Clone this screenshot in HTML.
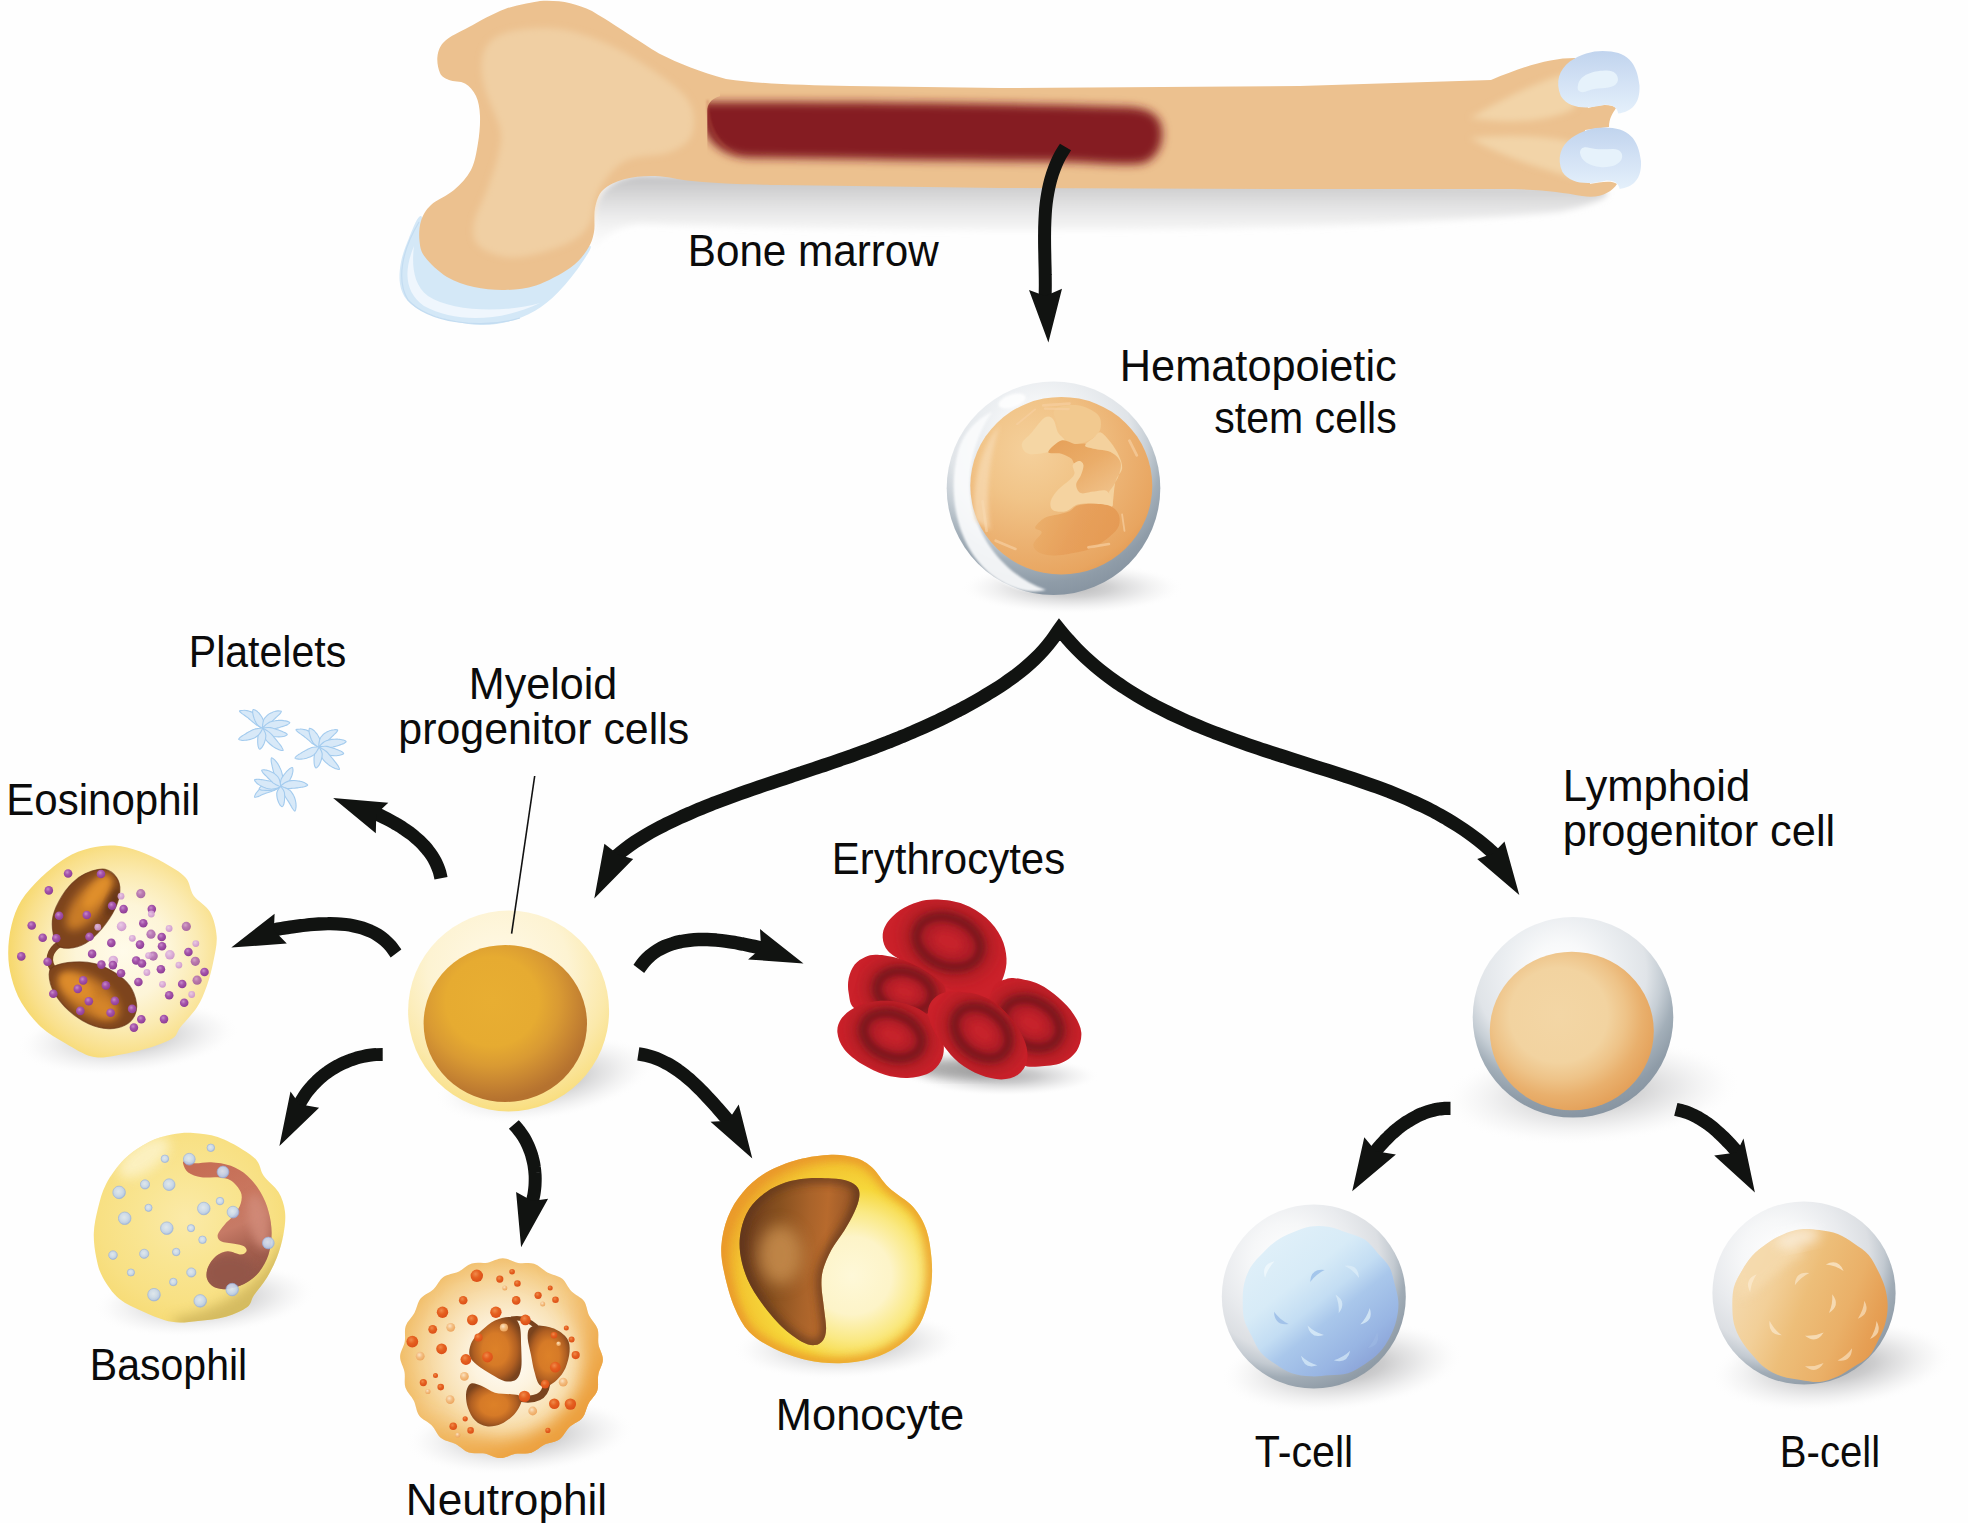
<!DOCTYPE html>
<html><head><meta charset="utf-8"><title>Hematopoiesis</title>
<style>
html,body{margin:0;padding:0;background:#fff;}
body{width:1968px;height:1523px;overflow:hidden;}
svg{display:block;}
text{font-family:"Liberation Sans",sans-serif;fill:#0b0b0b;}
</style></head><body>
<svg width="1968" height="1523" viewBox="0 0 1968 1523">
<defs>
<filter id="b1" x="-30%" y="-30%" width="160%" height="160%"><feGaussianBlur stdDeviation="1"/></filter>
<filter id="b2" x="-30%" y="-30%" width="160%" height="160%"><feGaussianBlur stdDeviation="2"/></filter>
<filter id="b3" x="-30%" y="-30%" width="160%" height="160%"><feGaussianBlur stdDeviation="3"/></filter>
<filter id="b4" x="-30%" y="-30%" width="160%" height="160%"><feGaussianBlur stdDeviation="4"/></filter>
<filter id="b6" x="-30%" y="-30%" width="160%" height="160%"><feGaussianBlur stdDeviation="6"/></filter>
<filter id="b8" x="-30%" y="-30%" width="160%" height="160%"><feGaussianBlur stdDeviation="8"/></filter>
<filter id="b10" x="-30%" y="-30%" width="160%" height="160%"><feGaussianBlur stdDeviation="10"/></filter>
<filter id="b14" x="-30%" y="-30%" width="160%" height="160%"><feGaussianBlur stdDeviation="14"/></filter>
<filter id="b05" x="-10%" y="-10%" width="120%" height="120%"><feGaussianBlur stdDeviation="0.6"/></filter>
<radialGradient id="gshadow" cx="0.5" cy="0.5" r="0.5">
<stop offset="0" stop-color="#8f8f91" stop-opacity="0.7"/>
<stop offset="0.35" stop-color="#a5a5a7" stop-opacity="0.55"/>
<stop offset="0.6" stop-color="#bdbdbf" stop-opacity="0.36"/>
<stop offset="0.82" stop-color="#d4d4d5" stop-opacity="0.15"/>
<stop offset="1" stop-color="#ffffff" stop-opacity="0"/>
</radialGradient>
<linearGradient id="boneShadow" x1="0" y1="0" x2="0" y2="1">
<stop offset="0" stop-color="#bdbdbf" stop-opacity="0.95"/>
<stop offset="0.25" stop-color="#cfcfd0" stop-opacity="0.8"/>
<stop offset="0.55" stop-color="#e6e6e6" stop-opacity="0.55"/>
<stop offset="1" stop-color="#ffffff" stop-opacity="0"/>
</linearGradient>
<linearGradient id="condyle" x1="0" y1="0" x2="0" y2="1">
<stop offset="0" stop-color="#c1d4ee"/>
<stop offset="0.5" stop-color="#d3e2f5"/>
<stop offset="1" stop-color="#e4f0fb"/>
</linearGradient>
<linearGradient id="cartL" x1="0" y1="0" x2="1" y2="1">
<stop offset="0" stop-color="#d9eaf8"/>
<stop offset="1" stop-color="#d2e6f6"/>
</linearGradient>
<clipPath id="marrowclip"><path d="M720 88 L1200 88 L1200 185 L707.3 185 L707.3 112 C707 105 710 99 720 96 Z"/></clipPath>
<filter id="b5" x="-10%" y="-40%" width="120%" height="180%"><feGaussianBlur stdDeviation="4.6"/></filter>
<radialGradient id="rg1" cx="0.44" cy="0.28" r="0.76"><stop offset="0" stop-color="#ffffff"/><stop offset="0.2" stop-color="#f8f9fa"/><stop offset="0.38" stop-color="#ebeef1"/><stop offset="0.56" stop-color="#e0e4e8"/><stop offset="0.66" stop-color="#c6ced5"/><stop offset="0.76" stop-color="#a3afb9"/><stop offset="0.87" stop-color="#8f9ca8"/><stop offset="1" stop-color="#84919e"/></radialGradient>
<radialGradient id="rg2" cx="0.36" cy="0.3" r="0.8"><stop offset="0" stop-color="#ffffff"/><stop offset="0.25" stop-color="#f6f7f8"/><stop offset="0.45" stop-color="#e9ebee"/><stop offset="0.62" stop-color="#dcdfe3"/><stop offset="0.72" stop-color="#c3cad1"/><stop offset="0.8" stop-color="#a1acb6"/><stop offset="0.9" stop-color="#919da8"/><stop offset="1" stop-color="#87949f"/></radialGradient>
<radialGradient id="rg3" cx="0.33" cy="0.3" r="0.8"><stop offset="0" stop-color="#f5d09b"/><stop offset="0.35" stop-color="#f1c488"/><stop offset="0.65" stop-color="#ecb272"/><stop offset="0.9" stop-color="#e8a560"/><stop offset="1" stop-color="#e39a53"/></radialGradient>
<clipPath id="cp4"><ellipse cx="1061.3" cy="485.7" rx="91.0" ry="88.8"/></clipPath>
<linearGradient id="lg5" x1="0.1" y1="0.0" x2="0.9" y2="1.0"><stop offset="0" stop-color="#e6a15a"/><stop offset="0.45" stop-color="#eaac68"/><stop offset="1" stop-color="#f1c48d"/></linearGradient>
<linearGradient id="lg6" x1="0.0" y1="0.3" x2="1.0" y2="0.6"><stop offset="0" stop-color="#ebb06c"/><stop offset="0.5" stop-color="#e7a05b"/><stop offset="1" stop-color="#e59a54"/></linearGradient>
<radialGradient id="rg7" cx="0.42" cy="0.4" r="0.62"><stop offset="0" stop-color="#f3d6a5"/><stop offset="0.48" stop-color="#f2d3a0"/><stop offset="0.66" stop-color="#eec388"/><stop offset="0.82" stop-color="#e9b06d"/><stop offset="1" stop-color="#e4a15a"/></radialGradient>
<linearGradient id="lg8" x1="0.15" y1="0.1" x2="0.85" y2="0.95"><stop offset="0" stop-color="#e0f0f9"/><stop offset="0.3" stop-color="#d7ebf7"/><stop offset="0.48" stop-color="#c3ddf3"/><stop offset="0.6" stop-color="#a9c7eb"/><stop offset="0.82" stop-color="#98b5e3"/><stop offset="1" stop-color="#889fd5"/></linearGradient>
<linearGradient id="lg9" x1="0.0" y1="0.4" x2="1.0" y2="0.8"><stop offset="0" stop-color="#f4d9ad"/><stop offset="0.22" stop-color="#f2cf98"/><stop offset="0.42" stop-color="#edbe79"/><stop offset="0.68" stop-color="#eab068"/><stop offset="0.85" stop-color="#e6a055"/><stop offset="1" stop-color="#e39548"/></linearGradient>
<clipPath id="cp10"><path d="M1887.7 1305.6 C1887.7 1311.6 1886.8 1317.9 1885.2 1323.7 C1883.6 1329.5 1880.8 1335.0 1878.1 1340.4 C1875.3 1345.9 1873.0 1352.1 1868.9 1356.5 C1864.8 1360.9 1858.7 1363.7 1853.5 1367.0 C1848.3 1370.4 1843.2 1374.1 1837.6 1376.5 C1831.9 1379.0 1825.6 1381.3 1819.5 1381.9 C1813.4 1382.4 1806.9 1380.8 1800.8 1379.9 C1794.6 1379.0 1788.2 1378.6 1782.4 1376.6 C1776.5 1374.7 1770.6 1371.8 1765.7 1368.3 C1760.7 1364.7 1756.7 1359.7 1752.6 1355.2 C1748.6 1350.6 1744.5 1345.9 1741.4 1340.7 C1738.3 1335.5 1735.5 1329.7 1734.0 1323.9 C1732.5 1318.0 1732.4 1311.7 1732.3 1305.6 C1732.3 1299.5 1732.4 1293.1 1733.9 1287.3 C1735.5 1281.5 1738.8 1276.0 1741.9 1270.7 C1744.9 1265.5 1748.2 1260.2 1752.3 1255.7 C1756.4 1251.3 1761.3 1247.5 1766.4 1244.0 C1771.4 1240.4 1776.7 1237.1 1782.4 1234.7 C1788.1 1232.2 1794.3 1230.1 1800.5 1229.3 C1806.7 1228.5 1813.2 1229.3 1819.4 1230.1 C1825.6 1230.9 1832.1 1231.8 1837.8 1234.1 C1843.6 1236.3 1848.9 1239.9 1854.0 1243.4 C1859.2 1246.9 1864.7 1250.3 1868.7 1254.9 C1872.7 1259.5 1875.3 1265.4 1878.0 1270.8 C1880.7 1276.2 1883.4 1281.8 1885.0 1287.6 C1886.6 1293.4 1887.6 1299.6 1887.7 1305.6Z"/></clipPath>
<radialGradient id="rg11" cx="0.45" cy="0.3" r="0.78"><stop offset="0" stop-color="#fff9e8"/><stop offset="0.45" stop-color="#fdf3d2"/><stop offset="0.7" stop-color="#fbe9ab"/><stop offset="0.88" stop-color="#f9df84"/><stop offset="1" stop-color="#f6d55f"/></radialGradient>
<radialGradient id="rg12" cx="0.42" cy="0.36" r="0.63"><stop offset="0" stop-color="#e8ae32"/><stop offset="0.45" stop-color="#e6ab31"/><stop offset="0.65" stop-color="#d99a33"/><stop offset="0.82" stop-color="#c88632"/><stop offset="0.95" stop-color="#ba7730"/><stop offset="1" stop-color="#b5722f"/></radialGradient>
<radialGradient id="rg13" cx="0.55" cy="0.5" r="0.56"><stop offset="0" stop-color="#fffbea"/><stop offset="0.4" stop-color="#fdf5d8"/><stop offset="0.65" stop-color="#fbebb3"/><stop offset="0.85" stop-color="#f9e08c"/><stop offset="1" stop-color="#f6d768"/></radialGradient>
<linearGradient id="lg14" x1="0.1" y1="0.2" x2="0.95" y2="0.75"><stop offset="0" stop-color="#7c431d"/><stop offset="0.3" stop-color="#b36b25"/><stop offset="0.5" stop-color="#d98a2b"/><stop offset="0.72" stop-color="#a9611f"/><stop offset="1" stop-color="#6e3a1b"/></linearGradient>
<linearGradient id="lg15" x1="0.0" y1="0.35" x2="1.0" y2="0.7"><stop offset="0" stop-color="#7c431d"/><stop offset="0.25" stop-color="#b86f27"/><stop offset="0.5" stop-color="#d98a2b"/><stop offset="0.75" stop-color="#9a5620"/><stop offset="1" stop-color="#6e3a1b"/></linearGradient>
<clipPath id="cp16"><path d="M91.9 871.0 C96.3 869.7 101.0 868.3 105.1 869.4 C109.2 870.5 114.1 874.0 116.5 877.6 C119.0 881.2 120.1 885.5 119.8 890.7 C119.6 895.9 117.9 902.5 114.9 908.8 C111.9 915.1 106.7 922.7 101.8 928.5 C96.8 934.2 90.8 940.0 85.4 943.3 C79.9 946.5 73.6 947.9 68.9 948.2 C64.3 948.5 60.2 948.2 57.5 944.9 C54.7 941.6 53.1 934.0 52.5 928.5 C52.0 923.0 52.0 918.4 54.2 912.1 C56.4 905.8 61.6 896.5 65.7 890.7 C69.8 885.0 74.4 880.9 78.8 877.6 C83.2 874.3 87.5 872.4 91.9 871.0Z"/></clipPath>
<clipPath id="cp17"><path d="M54.2 966.2 C58.3 964.2 67.0 962.6 73.9 962.1 C80.7 961.7 88.4 962.0 95.2 963.8 C102.0 965.6 109.2 969.1 114.9 972.8 C120.7 976.5 126.1 981.0 129.7 985.9 C133.2 990.9 135.4 997.4 136.2 1002.4 C137.1 1007.3 136.5 1011.7 134.6 1015.5 C132.7 1019.3 129.1 1023.1 124.8 1025.3 C120.4 1027.5 114.4 1028.9 108.3 1028.6 C102.3 1028.3 95.2 1026.7 88.6 1023.7 C82.1 1020.7 74.7 1015.8 68.9 1010.6 C63.2 1005.4 57.5 998.5 54.2 992.5 C50.9 986.5 49.2 978.8 49.2 974.5 C49.2 970.1 50.1 968.3 54.2 966.2Z"/></clipPath>
<radialGradient id="rg18" cx="0.4" cy="0.35" r="0.65"><stop offset="0" stop-color="#c78acb"/><stop offset="0.45" stop-color="#a554ab"/><stop offset="1" stop-color="#8e3d96"/></radialGradient>
<radialGradient id="rg19" cx="0.4" cy="0.35" r="0.65"><stop offset="0" stop-color="#e7c6e6"/><stop offset="0.6" stop-color="#d6a3d6"/><stop offset="1" stop-color="#c98fca"/></radialGradient>
<radialGradient id="rg20" cx="0.48" cy="0.45" r="0.6"><stop offset="0" stop-color="#fbeaa8"/><stop offset="0.4" stop-color="#f9e592"/><stop offset="0.75" stop-color="#f8e083"/><stop offset="1" stop-color="#f6da72"/></radialGradient>
<clipPath id="cp21"><path d="M193.1 1133.0 C200.8 1133.4 209.5 1134.3 217.7 1137.1 C225.9 1139.8 235.8 1145.4 242.4 1149.4 C248.9 1153.4 253.6 1156.5 257.1 1160.9 C260.7 1165.3 260.1 1170.5 263.7 1175.7 C267.3 1180.9 274.9 1186.1 278.5 1192.1 C282.0 1198.1 284.2 1204.7 285.0 1211.8 C285.9 1218.9 284.8 1227.1 283.4 1234.8 C282.0 1242.4 279.6 1250.6 276.8 1257.7 C274.1 1264.8 270.8 1271.1 267.0 1277.4 C263.1 1283.7 257.1 1290.6 253.8 1295.5 C250.6 1300.4 251.9 1303.4 247.3 1307.0 C242.6 1310.5 234.1 1314.5 225.9 1316.8 C217.7 1319.2 207.1 1320.1 198.0 1320.9 C189.0 1321.8 180.8 1323.3 171.8 1321.8 C162.7 1320.2 152.6 1315.7 143.9 1311.9 C135.1 1308.1 126.1 1304.5 119.2 1298.8 C112.4 1293.0 106.7 1284.3 102.8 1277.4 C99.0 1270.6 97.8 1265.1 96.3 1257.7 C94.8 1250.3 93.5 1241.3 93.8 1233.1 C94.1 1224.9 95.9 1216.7 97.9 1208.5 C100.0 1200.3 101.7 1192.1 106.1 1183.9 C110.5 1175.7 117.1 1166.2 124.2 1159.2 C131.3 1152.3 140.9 1146.1 148.8 1142.0 C156.7 1137.9 164.4 1136.1 171.8 1134.6 C179.2 1133.1 185.5 1132.6 193.1 1133.0Z"/></clipPath>
<linearGradient id="lg22" x1="0.3" y1="0.0" x2="0.6" y2="1.0"><stop offset="0" stop-color="#c66d55"/><stop offset="0.35" stop-color="#c9775f"/><stop offset="0.55" stop-color="#c67a66"/><stop offset="0.75" stop-color="#a5604f"/><stop offset="1" stop-color="#925446"/></linearGradient>
<clipPath id="cp23"><path d="M183.3 1164.2 C183.8 1166.1 185.2 1170.2 188.2 1172.4 C191.2 1174.6 196.4 1176.5 201.3 1177.3 C206.2 1178.1 212.8 1176.8 217.7 1177.3 C222.7 1177.8 227.0 1178.1 230.9 1180.6 C234.7 1183.0 239.1 1188.2 240.7 1192.1 C242.4 1195.9 241.8 1199.7 240.7 1203.6 C239.6 1207.4 236.9 1211.5 234.1 1215.1 C231.4 1218.6 227.0 1221.6 224.3 1224.9 C221.6 1228.2 218.3 1232.0 217.7 1234.8 C217.2 1237.5 218.3 1239.8 221.0 1241.3 C223.8 1242.8 230.3 1243.0 234.1 1243.8 C238.0 1244.6 241.9 1245.0 244.0 1246.2 C246.1 1247.5 247.0 1249.8 246.5 1251.2 C245.9 1252.5 243.9 1254.5 240.7 1254.5 C237.6 1254.5 231.7 1250.9 227.6 1251.2 C223.5 1251.4 219.4 1253.4 216.1 1256.1 C212.8 1258.8 209.4 1263.8 207.9 1267.6 C206.4 1271.4 206.0 1275.8 207.1 1279.1 C208.2 1282.4 211.0 1285.6 214.5 1287.3 C217.9 1288.9 222.7 1289.5 227.6 1288.9 C232.5 1288.4 238.8 1286.7 244.0 1284.0 C249.2 1281.3 254.7 1277.4 258.8 1272.5 C262.9 1267.6 266.5 1261.0 268.6 1254.5 C270.8 1247.9 271.6 1240.2 271.6 1233.1 C271.6 1226.0 270.5 1218.6 268.6 1211.8 C266.8 1204.9 264.0 1198.1 260.4 1192.1 C256.9 1186.1 252.2 1180.0 247.3 1175.7 C242.4 1171.3 236.9 1168.1 230.9 1165.8 C224.8 1163.6 217.2 1162.6 211.2 1162.2 C205.1 1161.8 199.1 1163.6 194.8 1163.3 C190.4 1163.1 186.8 1160.7 184.9 1160.9 C183.0 1161.0 182.7 1162.3 183.3 1164.2Z"/></clipPath>
<radialGradient id="rg24" cx="0.45" cy="0.42" r="0.58"><stop offset="0" stop-color="#dde8f6"/><stop offset="0.55" stop-color="#c9daf1"/><stop offset="0.82" stop-color="#b7ccec"/><stop offset="1" stop-color="#93afe0"/></radialGradient>
<radialGradient id="rg25" cx="0.52" cy="0.5" r="0.55"><stop offset="0" stop-color="#fffefb"/><stop offset="0.3" stop-color="#fdf3df"/><stop offset="0.55" stop-color="#f9e3b9"/><stop offset="0.78" stop-color="#f5d08f"/><stop offset="0.95" stop-color="#f1bd69"/><stop offset="1" stop-color="#efb55c"/></radialGradient>
<clipPath id="cp26"><path d="M597.6 1328.9 C599.1 1333.7 597.6 1339.3 598.5 1344.5 C599.4 1349.6 603.0 1354.6 602.9 1359.6 C602.9 1364.7 599.2 1369.6 598.3 1374.7 C597.3 1379.8 598.9 1385.6 597.3 1390.4 C595.7 1395.1 591.1 1398.9 588.6 1403.4 C586.1 1408.0 585.5 1413.9 582.4 1417.8 C579.2 1421.8 573.3 1423.5 569.5 1427.1 C565.7 1430.7 563.7 1436.4 559.6 1439.3 C555.4 1442.3 549.4 1442.4 544.6 1444.6 C539.9 1446.9 536.1 1451.3 531.2 1452.8 C526.3 1454.3 520.6 1452.9 515.5 1453.7 C510.3 1454.6 505.2 1458.2 500.1 1458.1 C494.9 1458.1 490.0 1454.5 484.8 1453.5 C479.6 1452.6 473.7 1454.2 468.9 1452.6 C464.0 1451.0 460.2 1446.4 455.6 1444.0 C450.9 1441.5 445.0 1441.0 441.0 1437.9 C437.0 1434.7 435.2 1428.9 431.6 1425.2 C427.9 1421.4 422.1 1419.5 419.1 1415.4 C416.2 1411.3 416.1 1405.4 413.8 1400.7 C411.5 1396.0 407.0 1392.3 405.4 1387.5 C403.9 1382.7 405.4 1377.1 404.5 1371.9 C403.6 1366.8 400.0 1361.8 400.1 1356.8 C400.1 1351.7 403.8 1346.8 404.7 1341.7 C405.7 1336.6 404.1 1330.8 405.7 1326.0 C407.3 1321.3 411.9 1317.5 414.4 1313.0 C416.9 1308.4 417.5 1302.5 420.6 1298.6 C423.8 1294.6 429.7 1292.9 433.5 1289.3 C437.3 1285.7 439.3 1280.0 443.4 1277.1 C447.6 1274.1 453.6 1274.0 458.4 1271.8 C463.1 1269.5 466.9 1265.1 471.8 1263.6 C476.7 1262.1 482.4 1263.5 487.5 1262.7 C492.7 1261.8 497.8 1258.2 502.9 1258.3 C508.1 1258.3 513.0 1261.9 518.2 1262.9 C523.4 1263.8 529.3 1262.2 534.1 1263.8 C539.0 1265.4 542.8 1270.0 547.4 1272.4 C552.1 1274.9 558.0 1275.4 562.0 1278.5 C566.0 1281.7 567.8 1287.5 571.4 1291.2 C575.1 1295.0 580.9 1296.9 583.9 1301.0 C586.8 1305.1 586.9 1311.0 589.2 1315.7 C591.5 1320.4 596.0 1324.1 597.6 1328.9Z"/></clipPath>
<linearGradient id="lg27" x1="0.1" y1="0.1" x2="0.9" y2="0.95"><stop offset="0" stop-color="#eda23f" stop-opacity="0"/><stop offset="0.45" stop-color="#eda23f" stop-opacity="0.05"/><stop offset="0.7" stop-color="#eda23f" stop-opacity="0.7"/><stop offset="1" stop-color="#eb9c38" stop-opacity="1"/></linearGradient>
<radialGradient id="rg28" cx="0.5" cy="0.5" r="0.55"><stop offset="0" stop-color="#dd8128"/><stop offset="0.45" stop-color="#d67a27"/><stop offset="0.75" stop-color="#b05f22"/><stop offset="1" stop-color="#7a431d"/></radialGradient>
<radialGradient id="rg29" cx="0.4" cy="0.35" r="0.65"><stop offset="0" stop-color="#f08a4a"/><stop offset="0.5" stop-color="#e5601f"/><stop offset="1" stop-color="#dc4f18"/></radialGradient>
<radialGradient id="rg30" cx="0.4" cy="0.35" r="0.65"><stop offset="0" stop-color="#fbe3c4"/><stop offset="0.5" stop-color="#f3bd80"/><stop offset="1" stop-color="#eda65f"/></radialGradient>
<radialGradient id="rg31" cx="0.62" cy="0.58" r="0.62"><stop offset="0" stop-color="#fef8d8"/><stop offset="0.3" stop-color="#fdf4c8"/><stop offset="0.5" stop-color="#fae984"/><stop offset="0.68" stop-color="#f6d73a"/><stop offset="0.85" stop-color="#f3c531"/><stop offset="1" stop-color="#eca32b"/></radialGradient>
<clipPath id="cp32"><path d="M831.3 1154.7 C840.9 1154.4 849.1 1155.8 855.9 1158.0 C862.8 1160.2 866.9 1162.9 872.4 1167.8 C877.8 1172.8 881.9 1181.0 888.8 1187.5 C895.6 1194.1 907.1 1200.1 913.4 1207.2 C919.7 1214.3 923.5 1221.7 926.5 1230.2 C929.5 1238.7 930.6 1249.4 931.5 1258.1 C932.3 1266.9 932.3 1274.5 931.5 1282.7 C930.6 1290.9 929.0 1299.7 926.5 1307.4 C924.1 1315.0 921.6 1322.1 916.7 1328.7 C911.8 1335.3 904.4 1341.8 897.0 1346.8 C889.6 1351.7 881.9 1355.5 872.4 1358.2 C862.8 1361.0 850.5 1362.9 839.5 1363.2 C828.6 1363.4 817.6 1362.3 806.7 1359.9 C795.8 1357.4 783.4 1353.0 773.9 1348.4 C764.3 1343.7 755.8 1338.8 749.2 1332.0 C742.7 1325.1 738.6 1316.9 734.5 1307.4 C730.4 1297.8 726.8 1284.6 724.6 1274.5 C722.4 1264.4 720.8 1256.2 721.3 1246.6 C721.9 1237.0 724.3 1226.1 727.9 1217.1 C731.5 1208.0 736.4 1199.8 742.7 1192.5 C749.0 1185.1 756.4 1178.2 765.7 1172.8 C775.0 1167.3 787.5 1162.6 798.5 1159.6 C809.4 1156.6 821.7 1155.0 831.3 1154.7Z"/></clipPath>
<linearGradient id="lg33" x1="0.0" y1="0.45" x2="1.0" y2="0.55"><stop offset="0" stop-color="#6a3b1e"/><stop offset="0.3" stop-color="#87501f"/><stop offset="0.55" stop-color="#a9632a"/><stop offset="0.7" stop-color="#b76a2d"/><stop offset="0.85" stop-color="#a05c29"/><stop offset="1" stop-color="#7a4520"/></linearGradient>
<clipPath id="cp34"><path d="M806.7 1178.5 C814.4 1177.8 824.5 1178.1 831.3 1178.5 C838.2 1178.9 843.4 1179.5 847.7 1181.0 C852.1 1182.5 855.7 1184.8 857.6 1187.5 C859.5 1190.3 859.8 1193.3 859.2 1197.4 C858.7 1201.5 856.8 1206.7 854.3 1212.2 C851.8 1217.6 848.3 1223.9 844.5 1230.2 C840.6 1236.5 834.9 1243.3 831.3 1249.9 C827.8 1256.5 824.8 1263.6 823.1 1269.6 C821.5 1275.6 821.3 1279.7 821.5 1286.0 C821.6 1292.3 823.2 1300.2 823.9 1307.4 C824.7 1314.5 826.2 1323.2 826.1 1328.7 C825.9 1334.2 825.0 1337.5 823.1 1340.2 C821.3 1342.9 818.5 1344.8 814.9 1345.1 C811.3 1345.4 807.2 1344.8 801.8 1341.8 C796.3 1338.8 788.6 1333.3 782.1 1327.1 C775.5 1320.8 768.1 1312.0 762.4 1304.1 C756.6 1296.1 751.3 1287.9 747.6 1279.5 C743.9 1271.0 741.3 1261.4 740.2 1253.2 C739.1 1245.0 739.5 1237.6 741.0 1230.2 C742.5 1222.8 745.1 1215.2 749.2 1208.9 C753.3 1202.6 759.6 1196.8 765.7 1192.5 C771.7 1188.1 778.5 1184.9 785.4 1182.6 C792.2 1180.3 799.0 1179.2 806.7 1178.5Z"/></clipPath>
<clipPath id="cp35"><path d="M937.8 899.6 C945.4 900.0 955.4 901.1 963.5 904.2 C971.5 907.2 979.8 912.2 986.1 917.8 C992.4 923.3 997.8 930.6 1001.2 937.4 C1004.6 944.2 1006.2 952.0 1006.5 958.5 C1006.9 965.1 1005.4 971.4 1003.5 976.7 C1001.6 981.9 999.4 986.5 995.2 990.3 C991.0 994.0 985.1 997.8 978.6 999.3 C972.0 1000.8 962.7 1001.1 955.9 999.3 C949.1 997.6 944.1 993.3 937.8 988.7 C931.5 984.2 924.0 976.7 918.2 972.1 C912.4 967.6 908.1 965.1 903.1 961.6 C898.0 958.0 891.4 955.0 888.0 951.0 C884.6 947.0 882.9 941.9 882.7 937.4 C882.4 932.9 883.6 928.3 886.5 923.8 C889.4 919.3 894.8 913.9 900.0 910.2 C905.3 906.6 911.9 903.7 918.2 901.9 C924.5 900.1 930.3 899.3 937.8 899.6Z"/></clipPath>
<clipPath id="cp36"><path d="M877.4 954.8 C882.9 955.0 891.5 956.4 898.5 958.5 C905.6 960.7 913.1 964.1 919.7 967.6 C926.2 971.1 933.5 976.2 937.8 979.7 C942.1 983.2 944.6 984.7 945.4 988.7 C946.1 992.8 945.1 999.8 942.3 1003.8 C939.6 1007.9 934.0 1010.9 928.7 1012.9 C923.5 1014.9 918.7 1015.9 910.6 1015.9 C902.6 1015.9 889.7 1014.2 880.4 1012.9 C871.1 1011.7 860.0 1011.7 854.7 1008.4 C849.5 1005.1 849.7 998.3 848.7 993.3 C847.7 988.2 847.7 983.0 848.7 978.2 C849.7 973.4 852.0 968.1 854.7 964.6 C857.5 961.1 861.5 958.7 865.3 957.0 C869.1 955.4 871.9 954.5 877.4 954.8Z"/></clipPath>
<clipPath id="cp37"><path d="M1014.8 978.2 C1020.6 978.9 1031.7 980.9 1039.0 984.2 C1046.3 987.5 1052.8 992.8 1058.6 997.8 C1064.4 1002.8 1070.0 1008.6 1073.7 1014.4 C1077.5 1020.2 1080.8 1026.5 1081.3 1032.5 C1081.8 1038.6 1080.0 1045.6 1076.8 1050.7 C1073.5 1055.7 1067.9 1060.1 1061.7 1062.8 C1055.4 1065.4 1045.5 1066.2 1039.0 1066.5 C1032.5 1066.9 1027.4 1067.2 1022.4 1065.0 C1017.4 1062.9 1013.6 1059.4 1008.8 1053.7 C1004.0 1048.0 997.5 1038.6 993.7 1031.0 C989.9 1023.5 986.6 1014.4 986.1 1008.4 C985.6 1002.3 989.2 998.8 990.7 994.8 C992.2 990.8 992.9 986.7 995.2 984.2 C997.5 981.7 1001.0 980.7 1004.3 979.7 C1007.5 978.7 1009.0 977.4 1014.8 978.2Z"/></clipPath>
<clipPath id="cp38"><path d="M888.0 1000.8 C894.8 1001.3 904.1 1003.1 910.6 1005.4 C917.2 1007.6 922.5 1010.4 927.2 1014.4 C932.0 1018.4 936.5 1024.2 939.3 1029.5 C942.1 1034.8 943.6 1040.9 943.8 1046.1 C944.1 1051.4 943.3 1056.7 940.8 1061.2 C938.3 1065.8 934.3 1070.6 928.7 1073.3 C923.2 1076.1 914.9 1077.6 907.6 1077.9 C900.3 1078.1 892.5 1077.1 884.9 1074.8 C877.4 1072.6 869.1 1068.5 862.3 1064.3 C855.5 1060.0 848.3 1054.4 844.2 1049.2 C840.0 1043.9 837.9 1037.6 837.4 1032.5 C836.9 1027.5 838.5 1023.0 841.1 1019.0 C843.8 1014.9 848.4 1011.1 853.2 1008.4 C858.0 1005.6 864.1 1003.6 869.8 1002.3 C875.6 1001.1 881.2 1000.3 888.0 1000.8Z"/></clipPath>
<clipPath id="cp39"><path d="M955.9 991.8 C962.0 992.0 971.5 992.5 978.6 994.8 C985.6 997.1 992.2 1000.6 998.2 1005.4 C1004.3 1010.1 1010.3 1017.2 1014.8 1023.5 C1019.4 1029.8 1023.4 1036.8 1025.4 1043.1 C1027.4 1049.4 1028.2 1056.0 1026.9 1061.2 C1025.7 1066.5 1022.1 1071.8 1017.9 1074.8 C1013.6 1077.9 1007.5 1079.4 1001.2 1079.4 C994.9 1079.4 987.1 1077.6 980.1 1074.8 C973.0 1072.1 965.0 1067.5 959.0 1062.8 C952.9 1058.0 948.1 1051.7 943.8 1046.1 C939.6 1040.6 935.9 1035.1 933.3 1029.5 C930.6 1024.0 928.2 1017.7 928.0 1012.9 C927.7 1008.1 929.4 1004.1 931.8 1000.8 C934.2 997.6 938.3 994.8 942.3 993.3 C946.4 991.8 949.9 991.5 955.9 991.8Z"/></clipPath>
</defs>
<rect x="0" y="0" width="1968" height="1523" fill="#fefefe"/>
<g filter="url(#b3)">
<path d="M596 205 C602 186 618 177 640 175 L1590 186 C1620 190 1612 200 1560 212 C1300 236 900 232 640 224 C615 226 598 238 590 262 Z" fill="url(#boneShadow)"/>
</g>
<path d="M421.0 216.0 C417.8 214.8 412.3 230.3 409.0 238.0 C405.7 245.7 402.5 254.3 401.0 262.0 C399.5 269.7 399.0 277.7 400.0 284.0 C401.0 290.3 403.0 295.3 407.0 300.0 C411.0 304.7 416.5 308.5 424.0 312.0 C431.5 315.5 442.2 318.8 452.0 321.0 C461.8 323.2 472.7 325.2 483.0 325.0 C493.3 324.8 504.3 323.0 514.0 320.0 C523.7 317.0 532.8 312.5 541.0 307.0 C549.2 301.5 556.3 294.2 563.0 287.0 C569.7 279.8 576.5 270.8 581.0 264.0 C585.5 257.2 593.5 246.3 590.0 246.0 C586.5 245.7 575.0 256.3 560.0 262.0 C545.0 267.7 518.3 279.0 500.0 280.0 C481.7 281.0 462.0 273.8 450.0 268.0 C438.0 262.2 432.8 253.7 428.0 245.0 C423.2 236.3 424.2 217.2 421.0 216.0Z" fill="#d4e8f7"/>
<path d="M414 246 C404 270 404 292 424 306 C455 323 500 322 540 303 C505 313 452 312 428 296 C412 284 412 262 414 246Z" fill="#eff6fd"/>
<path d="M419 222 C402 250 396 280 408 300 C428 322 480 330 520 318" fill="none" stroke="#c3dcf1" stroke-width="1.2"/>
<path d="M540.0 1.0 C534.2 2.3 516.8 4.7 505.0 9.0 C493.2 13.3 479.0 21.7 469.0 27.0 C459.0 32.3 450.2 36.2 445.0 41.0 C439.8 45.8 438.3 50.7 437.5 56.0 C436.7 61.3 438.1 69.0 440.0 73.0 C441.9 77.0 444.8 78.2 449.0 80.0 C453.2 81.8 460.5 80.8 465.0 83.5 C469.5 86.2 473.5 90.6 476.0 96.0 C478.5 101.4 479.7 108.2 480.0 116.0 C480.3 123.8 479.5 134.0 478.0 143.0 C476.5 152.0 475.0 162.2 471.0 170.0 C467.0 177.8 460.7 184.2 454.0 190.0 C447.3 195.8 436.5 199.8 431.0 205.0 C425.5 210.2 422.9 215.0 421.0 221.0 C419.1 227.0 418.8 235.0 419.5 241.0 C420.2 247.0 420.4 251.0 425.0 257.0 C429.6 263.0 438.8 272.0 447.0 277.0 C455.2 282.0 464.3 284.8 474.0 287.0 C483.7 289.2 494.7 290.2 505.0 290.0 C515.3 289.8 525.2 289.2 536.0 285.5 C546.8 281.8 561.5 273.9 570.0 268.0 C578.5 262.1 583.0 256.0 587.0 250.0 C591.0 244.0 592.7 239.0 594.0 232.0 C595.3 225.0 593.5 215.0 595.0 208.0 C596.5 201.0 598.0 194.8 603.0 190.0 C608.0 185.2 616.3 181.3 625.0 179.0 C633.7 176.7 643.8 175.7 655.0 176.0 C666.2 176.3 678.3 179.7 692.0 181.0 C705.7 182.3 722.3 183.3 737.0 184.0 C751.7 184.7 772.8 184.8 780.0 185.0 L1000 188 L1300 189 L1500 189 C1540 189 1560 192 1582 196 C1600 199 1612 192 1617 184 C1612 180 1600 182 1590 184 L1585 130 L1609 127 C1609 118 1613 113 1616 108 C1612 104 1600 104 1588 108 L1575 58 C1550 58 1525 66 1491 80 L1300 86 L1000 88 L850 86 C800 85 760 84 726 79 C700 72 680 64 659 53.5 C640 42 625 31 592 11 C575 3 560 0 540 1Z" fill="#ecc18f"/>
<path d="M518.0 30.0 C506.8 31.8 498.0 35.0 492.0 40.0 C486.0 45.0 483.2 51.8 482.0 60.0 C480.8 68.2 482.0 77.5 485.0 89.0 C488.0 100.5 497.8 117.8 500.0 129.0 C502.2 140.2 500.2 145.8 498.0 156.0 C495.8 166.2 491.0 178.8 487.0 190.0 C483.0 201.2 475.5 213.8 474.0 223.0 C472.5 232.2 472.8 239.3 478.0 245.0 C483.2 250.7 495.3 255.5 505.0 257.0 C514.7 258.5 524.8 256.7 536.0 254.0 C547.2 251.3 563.0 246.2 572.0 241.0 C581.0 235.8 585.5 231.5 590.0 223.0 C594.5 214.5 593.2 200.3 599.0 190.0 C604.8 179.7 613.2 167.3 625.0 161.0 C636.8 154.7 658.8 156.5 670.0 152.0 C681.2 147.5 689.0 142.7 692.0 134.0 C695.0 125.3 695.3 111.2 688.0 100.0 C680.7 88.8 662.2 76.7 648.0 67.0 C633.8 57.3 617.8 48.3 603.0 42.0 C588.2 35.7 573.2 31.0 559.0 29.0 C544.8 27.0 529.2 28.2 518.0 30.0Z" fill="#f0cfa3" filter="url(#b3)"/>
<g filter="url(#b3)">
<path d="M1470 118 C1500 100 1540 80 1572 72 L1575 108 C1550 122 1510 124 1470 118Z" fill="#f2d4a8"/>
<path d="M1470 138 C1510 134 1545 136 1572 142 L1575 178 C1545 170 1500 156 1470 138Z" fill="#f2d4a8"/>
</g>
<g clip-path="url(#marrowclip)">
<path d="M700 102 L700 112 C702 137 718 155 746 157.5 C860 159 960 161 1060 161.5 C1100 163 1130 166 1144 163 C1158 157 1163 144 1162 131 C1161 115 1149 108 1128 107 C1000 103 850 101.5 700 102Z" fill="#851f24" filter="url(#b5)"/>
</g>
<path d="M707.6 100 C707 120 712 142 738 155" fill="none" stroke="#b5533c" stroke-width="1.5" opacity="0.5" filter="url(#b1)"/>
<path d="M1602.6 51.0 C1627.2 51.0 1637.0 62.2 1639.5 85.4 C1640.3 104.1 1631.3 111.6 1618.2 113.5 C1617.4 109.1 1614.9 104.8 1605.1 104.8 C1590.3 108.5 1569.8 110.4 1560.8 96.0 C1555.0 82.2 1559.1 69.8 1569.8 61.6 C1580.5 54.1 1591.9 51.0 1602.6 51.0 Z" fill="url(#condyle)"/>
<path d="M1604.1 127.5 C1628.7 127.5 1638.5 138.6 1641.0 161.3 C1641.8 179.8 1632.8 187.2 1619.7 189.0 C1618.9 184.7 1616.4 180.4 1606.6 180.4 C1591.8 184.1 1571.3 185.9 1562.3 171.8 C1556.5 158.2 1560.6 145.9 1571.3 138.0 C1582.0 130.6 1593.4 127.5 1604.1 127.5 Z" fill="url(#condyle)"/>
<path d="M1578 85 C1580 75 1592 71 1605 70.5 C1614 70 1618 74 1618 80 C1617 87 1608 88 1598 88.5 C1590 89 1585 93 1581 92 C1578 91 1577 89 1578 85Z" fill="#e6f2fb"/>
<path d="M1580 153 C1580 148 1584 146 1590 148 C1597 150 1606 149 1613 149 C1620 149 1623 153 1622 158 C1620 165 1610 168 1600 167 C1590 166 1581 161 1580 153Z" fill="#e6f2fb"/>
<ellipse cx="1072.0" cy="588.0" rx="112.0" ry="26.0" fill="url(#gshadow)" opacity="0.90" transform="rotate(0.0 1072.0 588.0)"/>
<circle cx="1053.5" cy="488.2" r="106.8" fill="url(#rg1)"/>
<path d="M958 452 C946 500 960 548 990 574 C1010 590 1030 594 1046 590 C1012 578 982 548 972 506 C966 478 972 440 992 412 C975 420 963 434 958 452Z" fill="#fbfcfd" opacity="0.9" filter="url(#b1)"/>
<ellipse cx="1012" cy="401" rx="14" ry="6.5" fill="#ffffff" opacity="0.85" transform="rotate(-18 1012 401)" filter="url(#b1)"/>
<ellipse cx="1061.3" cy="485.7" rx="91.0" ry="88.8" fill="url(#rg3)"/>
<g clip-path="url(#cp4)"><g filter="url(#b05)">
<path d="M1021.9 443.9 C1022.5 440.3 1027.9 436.8 1031.8 432.4 C1035.6 428.0 1041.3 419.8 1044.9 417.6 C1048.5 415.4 1050.9 416.8 1053.1 419.2 C1055.3 421.7 1056.1 428.8 1058.0 432.4 C1060.0 435.9 1064.9 438.4 1064.6 440.6 C1064.3 442.8 1059.1 443.6 1056.4 445.5 C1053.7 447.4 1052.8 450.7 1048.2 452.1 C1043.5 453.4 1032.9 455.1 1028.5 453.7 C1024.1 452.3 1021.4 447.4 1021.9 443.9Z" fill="#f5d6a4"/>
<path d="M1054.8 409.4 C1058.0 406.0 1070.6 404.5 1077.7 405.3 C1084.8 406.1 1093.6 410.6 1097.4 414.3 C1101.3 418.0 1101.3 423.6 1100.7 427.5 C1100.2 431.3 1098.0 434.6 1094.1 437.3 C1090.3 440.0 1082.7 443.6 1077.7 443.9 C1072.8 444.1 1067.9 442.0 1064.6 438.9 C1061.3 435.9 1059.7 430.7 1058.0 425.8 C1056.4 420.9 1051.5 412.8 1054.8 409.4Z" fill="#f2c98f"/>
<path d="M1048.2 452.1 C1048.2 449.9 1056.9 442.0 1061.3 440.6 C1065.7 439.2 1070.3 443.3 1074.5 443.9 C1078.6 444.4 1082.7 443.0 1085.9 443.9 C1089.2 444.7 1090.0 447.4 1094.1 448.8 C1098.3 450.2 1106.2 449.9 1110.6 452.1 C1114.9 454.3 1119.0 458.1 1120.4 461.9 C1121.8 465.8 1119.9 471.2 1118.8 475.1 C1117.7 478.9 1115.5 481.1 1113.8 484.9 C1112.2 488.7 1112.2 496.9 1108.9 498.0 C1105.6 499.1 1098.8 492.3 1094.1 491.5 C1089.5 490.7 1084.0 494.5 1081.0 493.1 C1078.0 491.7 1075.8 487.4 1076.1 483.3 C1076.4 479.2 1081.8 472.0 1082.7 468.5 C1083.5 464.9 1082.4 462.7 1081.0 461.9 C1079.6 461.1 1076.1 464.1 1074.5 463.6 C1072.8 463.0 1073.4 460.3 1071.2 458.6 C1069.0 457.0 1065.1 454.8 1061.3 453.7 C1057.5 452.6 1048.2 454.3 1048.2 452.1Z" fill="url(#lg5)"/>
<path d="M1085.1 445.5 C1085.1 443.6 1091.6 439.5 1094.1 437.3 C1096.7 435.1 1098.0 431.6 1100.7 432.4 C1103.5 433.2 1107.6 438.4 1110.6 442.2 C1113.6 446.1 1116.9 451.0 1118.8 455.4 C1120.7 459.7 1122.6 464.1 1122.1 468.5 C1121.5 472.9 1117.1 475.3 1115.5 481.6 C1113.8 487.9 1113.4 504.1 1112.2 506.2 C1111.0 508.4 1107.8 498.3 1108.1 494.8 C1108.4 491.2 1112.1 488.2 1113.8 484.9 C1115.6 481.6 1117.7 478.9 1118.8 475.1 C1119.9 471.2 1121.8 465.8 1120.4 461.9 C1119.0 458.1 1114.9 454.3 1110.6 452.1 C1106.2 449.9 1098.4 449.9 1094.1 448.8 C1089.9 447.7 1085.1 447.4 1085.1 445.5Z" fill="#f4d19d"/>
<path d="M1072.8 465.2 C1073.6 463.2 1077.6 461.1 1079.4 461.1 C1081.2 461.1 1083.2 462.9 1083.5 465.2 C1083.8 467.5 1082.2 471.8 1081.0 475.1 C1079.8 478.3 1076.1 481.9 1076.1 484.9 C1076.1 487.9 1078.0 492.0 1081.0 493.1 C1084.0 494.2 1089.8 491.7 1094.1 491.5 C1098.5 491.2 1104.3 489.0 1107.3 491.5 C1110.3 493.9 1114.4 504.2 1112.2 506.2 C1110.0 508.3 1099.9 504.1 1094.1 503.8 C1088.4 503.5 1082.4 503.4 1077.7 504.6 C1073.1 505.8 1070.3 510.2 1066.2 511.2 C1062.1 512.1 1055.7 512.0 1053.1 510.3 C1050.5 508.7 1049.8 504.7 1050.7 501.3 C1051.5 497.9 1054.9 493.4 1058.0 489.8 C1061.2 486.3 1066.8 482.7 1069.5 480.0 C1072.3 477.2 1073.9 475.9 1074.5 473.4 C1075.0 471.0 1072.0 467.3 1072.8 465.2Z" fill="#f5d3a0"/>
<path d="M1069.5 511.2 C1072.8 509.7 1073.6 506.7 1077.7 505.4 C1081.8 504.2 1088.7 503.6 1094.1 503.8 C1099.6 503.9 1106.5 504.5 1110.6 506.2 C1114.7 508.0 1117.4 511.2 1118.8 514.5 C1120.1 517.7 1120.1 522.4 1118.8 525.9 C1117.4 529.5 1114.7 532.2 1110.6 535.8 C1106.5 539.3 1099.6 544.5 1094.1 547.3 C1088.7 550.0 1084.6 550.8 1077.7 552.2 C1070.9 553.6 1059.7 555.5 1053.1 555.5 C1046.5 555.5 1041.6 554.1 1038.3 552.2 C1035.1 550.3 1032.9 547.3 1033.4 544.0 C1034.0 540.7 1041.3 535.2 1041.6 532.5 C1041.9 529.8 1034.5 530.0 1035.1 527.6 C1035.6 525.1 1041.1 519.9 1044.9 517.7 C1048.7 515.5 1053.9 515.5 1058.0 514.5 C1062.1 513.4 1066.2 512.7 1069.5 511.2Z" fill="url(#lg6)"/>
</g>
<path d="M1043.3 405.3 L1069.5 403.7" stroke="#f7cfa0" stroke-width="2.7" stroke-linecap="round" opacity="0.7"/>
<path d="M1044.9 408.6 L1068.7 409.1" stroke="#f7cfa0" stroke-width="2.2" stroke-linecap="round" opacity="0.7"/>
<path d="M1017.0 424.2 L1035.1 409.4" stroke="#f7cfa0" stroke-width="1.8" stroke-linecap="round" opacity="0.7"/>
<path d="M982.5 501.3 L986.6 530.9" stroke="#f7cfa0" stroke-width="2.7" stroke-linecap="round" opacity="0.7"/>
<path d="M995.7 540.7 L1015.4 548.9" stroke="#f7cfa0" stroke-width="2.7" stroke-linecap="round" opacity="0.7"/>
<path d="M1088.4 547.3 L1108.9 544.0" stroke="#f7cfa0" stroke-width="2.7" stroke-linecap="round" opacity="0.7"/>
<path d="M1129.4 440.6 L1136.8 455.4" stroke="#f7cfa0" stroke-width="2.7" stroke-linecap="round" opacity="0.7"/>
<path d="M1122.1 514.5 L1124.5 530.9" stroke="#f7cfa0" stroke-width="1.8" stroke-linecap="round" opacity="0.7"/>
</g>
<path d="M975 520 C970 480 985 440 1000 425 C990 455 985 490 990 530Z" fill="#f8dcb5" opacity="0.7" filter="url(#b2)"/>
<ellipse cx="1592.0" cy="1092.0" rx="150.0" ry="52.0" fill="url(#gshadow)" opacity="0.80" transform="rotate(-4.0 1592.0 1092.0)"/>
<circle cx="1573.0" cy="1017.3" r="100.3" fill="url(#rg1)"/>
<ellipse cx="1571.8" cy="1031" rx="82" ry="79.3" fill="url(#rg7)"/>
<ellipse cx="1342.0" cy="1367.0" rx="122.0" ry="44.0" fill="url(#gshadow)" opacity="1.00" transform="rotate(-6.0 1342.0 1367.0)"/>
<circle cx="1313.8" cy="1296.5" r="92.0" fill="url(#rg2)"/>
<path d="M1398.4 1302.0 C1398.7 1308.0 1397.8 1314.2 1396.4 1320.1 C1395.0 1326.0 1392.7 1331.8 1389.8 1337.2 C1387.0 1342.6 1383.5 1348.0 1379.3 1352.5 C1375.2 1357.0 1369.9 1360.8 1364.7 1364.2 C1359.5 1367.7 1354.0 1371.3 1348.1 1373.2 C1342.2 1375.0 1335.5 1374.6 1329.2 1375.2 C1323.0 1375.7 1316.8 1376.7 1310.6 1376.3 C1304.4 1376.0 1297.8 1375.3 1291.9 1373.2 C1286.0 1371.2 1280.6 1367.5 1275.4 1364.0 C1270.2 1360.6 1264.7 1357.0 1260.8 1352.4 C1256.8 1347.8 1254.6 1341.8 1251.9 1336.4 C1249.1 1330.9 1245.9 1325.6 1244.3 1319.9 C1242.8 1314.2 1242.7 1308.0 1242.7 1302.0 C1242.6 1296.0 1242.8 1289.9 1244.1 1284.0 C1245.5 1278.2 1247.6 1272.2 1250.7 1267.1 C1253.8 1261.9 1258.4 1257.5 1262.6 1253.2 C1266.9 1248.8 1271.1 1244.4 1276.1 1240.9 C1281.1 1237.5 1286.8 1234.9 1292.5 1232.5 C1298.3 1230.0 1304.3 1227.4 1310.5 1226.5 C1316.6 1225.5 1323.3 1225.8 1329.5 1226.9 C1335.6 1227.9 1341.4 1230.6 1347.3 1232.8 C1353.2 1234.9 1359.7 1236.3 1364.8 1239.6 C1369.9 1243.0 1373.5 1248.4 1377.6 1252.9 C1381.7 1257.5 1386.5 1261.8 1389.4 1267.0 C1392.2 1272.2 1393.2 1278.5 1394.7 1284.3 C1396.2 1290.1 1398.1 1296.0 1398.4 1302.0Z" fill="url(#lg8)"/>
<path d="M1260.3 1269.5 Q1269.8 1259.0 1279.3 1269.5 Q1269.8 1267.1 1260.3 1269.5 Z" fill="#eef7fc" opacity="0.90" transform="rotate(-60.0 1269.8 1269.5)"/>
<path d="M1307.9 1276.0 Q1317.4 1265.6 1326.9 1276.0 Q1317.4 1273.7 1307.9 1276.0 Z" fill="#9fc2ea" opacity="0.90" transform="rotate(-40.0 1317.4 1276.0)"/>
<path d="M1342.3 1271.9 Q1351.8 1261.5 1361.3 1271.9 Q1351.8 1269.5 1342.3 1271.9 Z" fill="#dcecf8" opacity="0.80" transform="rotate(40.0 1351.8 1271.9)"/>
<path d="M1327.6 1303.9 Q1337.1 1293.5 1346.6 1303.9 Q1337.1 1301.6 1327.6 1303.9 Z" fill="#d9ebf8" opacity="0.80" transform="rotate(80.0 1337.1 1303.9)"/>
<path d="M1271.8 1317.9 Q1281.3 1307.4 1290.8 1317.9 Q1281.3 1315.5 1271.8 1317.9 Z" fill="#9dbfe8" opacity="0.90" transform="rotate(-140.0 1281.3 1317.9)"/>
<path d="M1306.2 1330.2 Q1315.7 1319.7 1325.2 1330.2 Q1315.7 1327.8 1306.2 1330.2 Z" fill="#dcedf9" opacity="0.80" transform="rotate(-150.0 1315.7 1330.2)"/>
<path d="M1355.5 1316.2 Q1365.0 1305.8 1374.5 1316.2 Q1365.0 1313.9 1355.5 1316.2 Z" fill="#dbecf8" opacity="0.80" transform="rotate(120.0 1365.0 1316.2)"/>
<path d="M1362.9 1340.0 Q1372.4 1329.6 1381.9 1340.0 Q1372.4 1337.7 1362.9 1340.0 Z" fill="#9bb6e2" opacity="0.80" transform="rotate(120.0 1372.4 1340.0)"/>
<path d="M1332.5 1355.6 Q1342.0 1345.2 1351.5 1355.6 Q1342.0 1353.3 1332.5 1355.6 Z" fill="#cfe3f5" opacity="0.80" transform="rotate(150.0 1342.0 1355.6)"/>
<path d="M1299.7 1360.6 Q1309.2 1350.1 1318.7 1360.6 Q1309.2 1358.2 1299.7 1360.6 Z" fill="#d5e8f7" opacity="0.80" transform="rotate(-150.0 1309.2 1360.6)"/>
<ellipse cx="1832.0" cy="1366.0" rx="122.0" ry="44.0" fill="url(#gshadow)" opacity="1.00" transform="rotate(-6.0 1832.0 1366.0)"/>
<circle cx="1804.0" cy="1293.0" r="91.6" fill="url(#rg2)"/>
<path d="M1887.7 1305.6 C1887.7 1311.6 1886.8 1317.9 1885.2 1323.7 C1883.6 1329.5 1880.8 1335.0 1878.1 1340.4 C1875.3 1345.9 1873.0 1352.1 1868.9 1356.5 C1864.8 1360.9 1858.7 1363.7 1853.5 1367.0 C1848.3 1370.4 1843.2 1374.1 1837.6 1376.5 C1831.9 1379.0 1825.6 1381.3 1819.5 1381.9 C1813.4 1382.4 1806.9 1380.8 1800.8 1379.9 C1794.6 1379.0 1788.2 1378.6 1782.4 1376.6 C1776.5 1374.7 1770.6 1371.8 1765.7 1368.3 C1760.7 1364.7 1756.7 1359.7 1752.6 1355.2 C1748.6 1350.6 1744.5 1345.9 1741.4 1340.7 C1738.3 1335.5 1735.5 1329.7 1734.0 1323.9 C1732.5 1318.0 1732.4 1311.7 1732.3 1305.6 C1732.3 1299.5 1732.4 1293.1 1733.9 1287.3 C1735.5 1281.5 1738.8 1276.0 1741.9 1270.7 C1744.9 1265.5 1748.2 1260.2 1752.3 1255.7 C1756.4 1251.3 1761.3 1247.5 1766.4 1244.0 C1771.4 1240.4 1776.7 1237.1 1782.4 1234.7 C1788.1 1232.2 1794.3 1230.1 1800.5 1229.3 C1806.7 1228.5 1813.2 1229.3 1819.4 1230.1 C1825.6 1230.9 1832.1 1231.8 1837.8 1234.1 C1843.6 1236.3 1848.9 1239.9 1854.0 1243.4 C1859.2 1246.9 1864.7 1250.3 1868.7 1254.9 C1872.7 1259.5 1875.3 1265.4 1878.0 1270.8 C1880.7 1276.2 1883.4 1281.8 1885.0 1287.6 C1886.6 1293.4 1887.6 1299.6 1887.7 1305.6Z" fill="url(#lg9)"/>
<g clip-path="url(#cp10)"><path d="M1730 1250 C1760 1225 1790 1235 1805 1255 C1780 1262 1765 1290 1740 1300Z" fill="#f6dcb0" opacity="0.7" filter="url(#b4)"/></g>
<ellipse cx="1798" cy="1238" rx="22" ry="9" fill="#ffffff" opacity="0.55" transform="rotate(-12 1798 1238)" filter="url(#b6)"/>
<path d="M1743.9 1283.3 Q1753.4 1272.8 1762.9 1283.3 Q1753.4 1280.9 1743.9 1283.3 Z" fill="#fbe9cf" opacity="0.75" transform="rotate(-70.0 1753.4 1283.3)"/>
<path d="M1792.6 1279.2 Q1802.1 1268.7 1811.6 1279.2 Q1802.1 1276.8 1792.6 1279.2 Z" fill="#fbe9cf" opacity="0.65" transform="rotate(-40.0 1802.1 1279.2)"/>
<path d="M1825.2 1267.8 Q1834.7 1257.4 1844.2 1267.8 Q1834.7 1265.4 1825.2 1267.8 Z" fill="#fbe9cf" opacity="0.75" transform="rotate(20.0 1834.7 1267.8)"/>
<path d="M1821.1 1303.6 Q1830.6 1293.1 1840.1 1303.6 Q1830.6 1301.2 1821.1 1303.6 Z" fill="#fbe9cf" opacity="0.70" transform="rotate(100.0 1830.6 1303.6)"/>
<path d="M1851.6 1309.7 Q1861.1 1299.2 1870.6 1309.7 Q1861.1 1307.3 1851.6 1309.7 Z" fill="#fbe9cf" opacity="0.60" transform="rotate(110.0 1861.1 1309.7)"/>
<path d="M1766.2 1328.0 Q1775.7 1317.5 1785.2 1328.0 Q1775.7 1325.6 1766.2 1328.0 Z" fill="#fbe9cf" opacity="0.70" transform="rotate(-130.0 1775.7 1328.0)"/>
<path d="M1804.8 1334.1 Q1814.3 1323.6 1823.8 1334.1 Q1814.3 1331.7 1804.8 1334.1 Z" fill="#fbe9cf" opacity="0.70" transform="rotate(170.0 1814.3 1334.1)"/>
<path d="M1863.8 1330.0 Q1873.3 1319.5 1882.8 1330.0 Q1873.3 1327.6 1863.8 1330.0 Z" fill="#fbe9cf" opacity="0.65" transform="rotate(110.0 1873.3 1330.0)"/>
<path d="M1835.3 1354.4 Q1844.8 1343.9 1854.3 1354.4 Q1844.8 1352.0 1835.3 1354.4 Z" fill="#fbe9cf" opacity="0.60" transform="rotate(140.0 1844.8 1354.4)"/>
<path d="M1804.8 1364.6 Q1814.3 1354.1 1823.8 1364.6 Q1814.3 1362.2 1804.8 1364.6 Z" fill="#fbe9cf" opacity="0.60" transform="rotate(170.0 1814.3 1364.6)"/>
<ellipse cx="545.0" cy="1080.0" rx="112.0" ry="40.0" fill="url(#gshadow)" opacity="0.90" transform="rotate(-10.0 545.0 1080.0)"/>
<circle cx="508.6" cy="1011" r="100.5" fill="url(#rg11)"/>
<ellipse cx="505.3" cy="1023.5" rx="81.7" ry="78.5" fill="url(#rg12)"/>
<ellipse cx="128.0" cy="1038.0" rx="112.0" ry="36.0" fill="url(#gshadow)" opacity="0.85" transform="rotate(-5.0 128.0 1038.0)"/>
<path d="M114.9 845.6 C123.1 846.1 131.3 848.5 139.5 851.3 C147.7 854.2 156.5 858.5 164.1 862.8 C171.8 867.2 180.6 872.1 185.5 877.6 C190.4 883.1 189.6 889.9 193.7 895.7 C197.8 901.4 206.3 905.2 210.1 912.1 C213.9 918.9 216.1 928.5 216.7 936.7 C217.2 944.9 215.0 953.1 213.4 961.3 C211.8 969.5 209.6 978.3 206.8 985.9 C204.1 993.6 201.4 1000.4 197.0 1007.3 C192.6 1014.1 184.7 1021.8 180.6 1027.0 C176.5 1032.2 177.8 1034.9 172.4 1038.5 C166.9 1042.0 157.3 1045.4 147.7 1048.3 C138.2 1051.2 124.2 1054.3 114.9 1055.7 C105.6 1057.1 100.1 1058.6 91.9 1056.5 C83.7 1054.5 74.1 1048.3 65.7 1043.4 C57.2 1038.5 48.4 1033.8 41.0 1027.0 C33.7 1020.1 26.3 1010.6 21.3 1002.4 C16.4 994.1 13.7 985.9 11.5 977.7 C9.3 969.5 8.2 961.9 8.2 953.1 C8.2 944.4 9.3 934.0 11.5 925.2 C13.7 916.5 16.4 908.5 21.3 900.6 C26.3 892.7 33.7 884.7 41.0 877.6 C48.4 870.5 57.5 862.8 65.7 857.9 C73.9 853.0 82.1 850.1 90.3 848.1 C98.5 846.0 106.7 845.0 114.9 845.6Z" fill="url(#rg13)"/>
<path d="M60.7 943.3 C49.2 949.8 46.0 961.3 55.0 971.2" fill="none" stroke="#7a4420" stroke-width="6.5" stroke-linecap="round"/>
<path d="M91.9 871.0 C96.3 869.7 101.0 868.3 105.1 869.4 C109.2 870.5 114.1 874.0 116.5 877.6 C119.0 881.2 120.1 885.5 119.8 890.7 C119.6 895.9 117.9 902.5 114.9 908.8 C111.9 915.1 106.7 922.7 101.8 928.5 C96.8 934.2 90.8 940.0 85.4 943.3 C79.9 946.5 73.6 947.9 68.9 948.2 C64.3 948.5 60.2 948.2 57.5 944.9 C54.7 941.6 53.1 934.0 52.5 928.5 C52.0 923.0 52.0 918.4 54.2 912.1 C56.4 905.8 61.6 896.5 65.7 890.7 C69.8 885.0 74.4 880.9 78.8 877.6 C83.2 874.3 87.5 872.4 91.9 871.0Z" fill="#7d441d"/>
<g clip-path="url(#cp16)">
<ellipse cx="89.5" cy="902.2" rx="14" ry="34" fill="#c97b27" transform="rotate(38 89.5 902.2)" filter="url(#b4)"/>
<ellipse cx="96.8" cy="892.4" rx="7" ry="20" fill="#e08f2c" transform="rotate(38 96.8 892.4)" filter="url(#b3)"/>
<ellipse cx="113.3" cy="902.2" rx="6" ry="16" fill="#5f3216" opacity="0.8" transform="rotate(25 113.3 902.2)" filter="url(#b3)"/>
</g>
<path d="M54.2 966.2 C58.3 964.2 67.0 962.6 73.9 962.1 C80.7 961.7 88.4 962.0 95.2 963.8 C102.0 965.6 109.2 969.1 114.9 972.8 C120.7 976.5 126.1 981.0 129.7 985.9 C133.2 990.9 135.4 997.4 136.2 1002.4 C137.1 1007.3 136.5 1011.7 134.6 1015.5 C132.7 1019.3 129.1 1023.1 124.8 1025.3 C120.4 1027.5 114.4 1028.9 108.3 1028.6 C102.3 1028.3 95.2 1026.7 88.6 1023.7 C82.1 1020.7 74.7 1015.8 68.9 1010.6 C63.2 1005.4 57.5 998.5 54.2 992.5 C50.9 986.5 49.2 978.8 49.2 974.5 C49.2 970.1 50.1 968.3 54.2 966.2Z" fill="#7d441d"/>
<g clip-path="url(#cp17)">
<ellipse cx="88.6" cy="995.8" rx="36" ry="18" fill="#c57826" transform="rotate(35 88.6 995.8)" filter="url(#b4)"/>
<ellipse cx="77.2" cy="987.6" rx="20" ry="10" fill="#dd8b2b" transform="rotate(35 77.2 987.6)" filter="url(#b3)"/>
<ellipse cx="101.8" cy="1007.3" rx="14" ry="8" fill="#d98829" opacity="0.8" transform="rotate(35 101.8 1007.3)" filter="url(#b3)"/>
</g>
<path d="M91.9 871.0 C96.3 869.7 101.0 868.3 105.1 869.4 C109.2 870.5 114.1 874.0 116.5 877.6 C119.0 881.2 120.1 885.5 119.8 890.7 C119.6 895.9 117.9 902.5 114.9 908.8 C111.9 915.1 106.7 922.7 101.8 928.5 C96.8 934.2 90.8 940.0 85.4 943.3 C79.9 946.5 73.6 947.9 68.9 948.2 C64.3 948.5 60.2 948.2 57.5 944.9 C54.7 941.6 53.1 934.0 52.5 928.5 C52.0 923.0 52.0 918.4 54.2 912.1 C56.4 905.8 61.6 896.5 65.7 890.7 C69.8 885.0 74.4 880.9 78.8 877.6 C83.2 874.3 87.5 872.4 91.9 871.0Z" fill="none" stroke="#6b3819" stroke-width="1.2" opacity="0.7"/>
<path d="M54.2 966.2 C58.3 964.2 67.0 962.6 73.9 962.1 C80.7 961.7 88.4 962.0 95.2 963.8 C102.0 965.6 109.2 969.1 114.9 972.8 C120.7 976.5 126.1 981.0 129.7 985.9 C133.2 990.9 135.4 997.4 136.2 1002.4 C137.1 1007.3 136.5 1011.7 134.6 1015.5 C132.7 1019.3 129.1 1023.1 124.8 1025.3 C120.4 1027.5 114.4 1028.9 108.3 1028.6 C102.3 1028.3 95.2 1026.7 88.6 1023.7 C82.1 1020.7 74.7 1015.8 68.9 1010.6 C63.2 1005.4 57.5 998.5 54.2 992.5 C50.9 986.5 49.2 978.8 49.2 974.5 C49.2 970.1 50.1 968.3 54.2 966.2Z" fill="none" stroke="#6b3819" stroke-width="1.2" opacity="0.7"/>
<circle cx="68.1" cy="873.5" r="4.3" fill="url(#rg18)"/>
<circle cx="101.0" cy="874.0" r="4.3" fill="url(#rg18)"/>
<circle cx="48.8" cy="890.4" r="4.3" fill="url(#rg18)"/>
<circle cx="140.8" cy="893.7" r="4.6" fill="url(#rg18)" opacity="0.75"/>
<circle cx="121.0" cy="896.2" r="3.4" fill="url(#rg19)" opacity="0.9"/>
<circle cx="112.1" cy="905.8" r="4.3" fill="url(#rg18)"/>
<circle cx="123.6" cy="909.1" r="4.3" fill="url(#rg18)"/>
<circle cx="151.8" cy="909.1" r="4.3" fill="url(#rg18)"/>
<circle cx="151.3" cy="914.0" r="3.4" fill="url(#rg19)" opacity="0.9"/>
<circle cx="59.1" cy="915.7" r="4.3" fill="url(#rg18)"/>
<circle cx="86.8" cy="915.0" r="4.3" fill="url(#rg18)"/>
<circle cx="31.7" cy="925.5" r="4.3" fill="url(#rg18)"/>
<circle cx="143.3" cy="923.2" r="4.3" fill="url(#rg18)"/>
<circle cx="121.6" cy="926.4" r="4.8" fill="url(#rg19)" opacity="0.9"/>
<circle cx="97.8" cy="927.2" r="3.4" fill="url(#rg19)" opacity="0.9"/>
<circle cx="186.3" cy="926.4" r="4.6" fill="url(#rg18)" opacity="0.75"/>
<circle cx="169.1" cy="928.5" r="3.4" fill="url(#rg19)" opacity="0.9"/>
<circle cx="151.0" cy="934.2" r="4.6" fill="url(#rg18)" opacity="0.75"/>
<circle cx="161.7" cy="937.0" r="4.3" fill="url(#rg18)"/>
<circle cx="42.7" cy="937.8" r="4.3" fill="url(#rg18)"/>
<circle cx="56.3" cy="938.3" r="4.3" fill="url(#rg18)"/>
<circle cx="89.5" cy="936.7" r="4.3" fill="url(#rg18)"/>
<circle cx="111.3" cy="942.9" r="4.3" fill="url(#rg18)"/>
<circle cx="132.3" cy="938.3" r="3.4" fill="url(#rg19)" opacity="0.9"/>
<circle cx="140.0" cy="944.6" r="4.3" fill="url(#rg18)"/>
<circle cx="162.0" cy="946.2" r="4.3" fill="url(#rg18)"/>
<circle cx="195.8" cy="943.6" r="3.4" fill="url(#rg19)" opacity="0.9"/>
<circle cx="188.4" cy="952.0" r="4.3" fill="url(#rg18)"/>
<circle cx="92.1" cy="953.9" r="4.3" fill="url(#rg18)"/>
<circle cx="153.2" cy="956.1" r="4.6" fill="url(#rg18)" opacity="0.75"/>
<circle cx="148.6" cy="955.6" r="3.4" fill="url(#rg19)" opacity="0.9"/>
<circle cx="169.9" cy="954.8" r="4.8" fill="url(#rg19)" opacity="0.9"/>
<circle cx="21.3" cy="956.4" r="4.3" fill="url(#rg18)"/>
<circle cx="47.6" cy="961.8" r="4.3" fill="url(#rg18)"/>
<circle cx="113.3" cy="960.5" r="4.8" fill="url(#rg19)" opacity="0.9"/>
<circle cx="136.2" cy="960.5" r="4.3" fill="url(#rg18)"/>
<circle cx="142.0" cy="963.5" r="4.3" fill="url(#rg18)"/>
<circle cx="101.4" cy="964.6" r="4.3" fill="url(#rg18)"/>
<circle cx="112.9" cy="965.1" r="4.3" fill="url(#rg18)"/>
<circle cx="195.3" cy="961.3" r="4.6" fill="url(#rg18)" opacity="0.75"/>
<circle cx="178.9" cy="965.1" r="3.4" fill="url(#rg19)" opacity="0.9"/>
<circle cx="160.9" cy="969.2" r="4.3" fill="url(#rg18)"/>
<circle cx="121.0" cy="973.3" r="4.3" fill="url(#rg18)"/>
<circle cx="146.9" cy="972.5" r="3.4" fill="url(#rg19)" opacity="0.9"/>
<circle cx="204.5" cy="972.0" r="4.3" fill="url(#rg18)"/>
<circle cx="83.2" cy="980.4" r="4.3" fill="url(#rg18)"/>
<circle cx="138.4" cy="982.0" r="4.3" fill="url(#rg18)"/>
<circle cx="197.1" cy="980.2" r="4.6" fill="url(#rg18)" opacity="0.75"/>
<circle cx="162.5" cy="984.3" r="3.4" fill="url(#rg19)" opacity="0.9"/>
<circle cx="182.2" cy="984.0" r="4.3" fill="url(#rg18)"/>
<circle cx="105.9" cy="985.4" r="4.3" fill="url(#rg18)"/>
<circle cx="77.8" cy="988.9" r="4.3" fill="url(#rg18)"/>
<circle cx="53.3" cy="993.7" r="4.3" fill="url(#rg18)"/>
<circle cx="169.2" cy="995.3" r="4.3" fill="url(#rg18)"/>
<circle cx="191.7" cy="994.5" r="3.4" fill="url(#rg19)" opacity="0.9"/>
<circle cx="88.8" cy="1001.2" r="4.3" fill="url(#rg18)"/>
<circle cx="114.9" cy="1000.9" r="4.3" fill="url(#rg18)"/>
<circle cx="184.2" cy="1002.8" r="4.3" fill="url(#rg18)"/>
<circle cx="132.1" cy="1008.9" r="4.3" fill="url(#rg18)"/>
<circle cx="80.3" cy="1010.9" r="4.3" fill="url(#rg18)"/>
<circle cx="110.6" cy="1012.7" r="4.3" fill="url(#rg18)"/>
<circle cx="141.3" cy="1019.3" r="4.3" fill="url(#rg18)"/>
<circle cx="164.0" cy="1019.1" r="4.3" fill="url(#rg18)"/>
<circle cx="133.9" cy="1027.6" r="4.3" fill="url(#rg18)"/>
<ellipse cx="205.0" cy="1300.0" rx="112.0" ry="36.0" fill="url(#gshadow)" opacity="0.90" transform="rotate(-5.0 205.0 1300.0)"/>
<path d="M193.1 1133.0 C200.8 1133.4 209.5 1134.3 217.7 1137.1 C225.9 1139.8 235.8 1145.4 242.4 1149.4 C248.9 1153.4 253.6 1156.5 257.1 1160.9 C260.7 1165.3 260.1 1170.5 263.7 1175.7 C267.3 1180.9 274.9 1186.1 278.5 1192.1 C282.0 1198.1 284.2 1204.7 285.0 1211.8 C285.9 1218.9 284.8 1227.1 283.4 1234.8 C282.0 1242.4 279.6 1250.6 276.8 1257.7 C274.1 1264.8 270.8 1271.1 267.0 1277.4 C263.1 1283.7 257.1 1290.6 253.8 1295.5 C250.6 1300.4 251.9 1303.4 247.3 1307.0 C242.6 1310.5 234.1 1314.5 225.9 1316.8 C217.7 1319.2 207.1 1320.1 198.0 1320.9 C189.0 1321.8 180.8 1323.3 171.8 1321.8 C162.7 1320.2 152.6 1315.7 143.9 1311.9 C135.1 1308.1 126.1 1304.5 119.2 1298.8 C112.4 1293.0 106.7 1284.3 102.8 1277.4 C99.0 1270.6 97.8 1265.1 96.3 1257.7 C94.8 1250.3 93.5 1241.3 93.8 1233.1 C94.1 1224.9 95.9 1216.7 97.9 1208.5 C100.0 1200.3 101.7 1192.1 106.1 1183.9 C110.5 1175.7 117.1 1166.2 124.2 1159.2 C131.3 1152.3 140.9 1146.1 148.8 1142.0 C156.7 1137.9 164.4 1136.1 171.8 1134.6 C179.2 1133.1 185.5 1132.6 193.1 1133.0Z" fill="url(#rg20)"/>
<g clip-path="url(#cp21)">
<ellipse cx="143.9" cy="1157.6" rx="30" ry="14" fill="#fcf2c6" opacity="0.9" transform="rotate(-35 143.9 1157.6)" filter="url(#b6)"/>
<path d="M283.4 1234.8 C270.3 1274.1 234.1 1307.0 171.8 1318.5 L184.9 1339.8 L299.8 1323.4 Z" fill="#b9a04d" opacity="0.55" filter="url(#b6)"/>
</g>
<path d="M183.3 1164.2 C183.8 1166.1 185.2 1170.2 188.2 1172.4 C191.2 1174.6 196.4 1176.5 201.3 1177.3 C206.2 1178.1 212.8 1176.8 217.7 1177.3 C222.7 1177.8 227.0 1178.1 230.9 1180.6 C234.7 1183.0 239.1 1188.2 240.7 1192.1 C242.4 1195.9 241.8 1199.7 240.7 1203.6 C239.6 1207.4 236.9 1211.5 234.1 1215.1 C231.4 1218.6 227.0 1221.6 224.3 1224.9 C221.6 1228.2 218.3 1232.0 217.7 1234.8 C217.2 1237.5 218.3 1239.8 221.0 1241.3 C223.8 1242.8 230.3 1243.0 234.1 1243.8 C238.0 1244.6 241.9 1245.0 244.0 1246.2 C246.1 1247.5 247.0 1249.8 246.5 1251.2 C245.9 1252.5 243.9 1254.5 240.7 1254.5 C237.6 1254.5 231.7 1250.9 227.6 1251.2 C223.5 1251.4 219.4 1253.4 216.1 1256.1 C212.8 1258.8 209.4 1263.8 207.9 1267.6 C206.4 1271.4 206.0 1275.8 207.1 1279.1 C208.2 1282.4 211.0 1285.6 214.5 1287.3 C217.9 1288.9 222.7 1289.5 227.6 1288.9 C232.5 1288.4 238.8 1286.7 244.0 1284.0 C249.2 1281.3 254.7 1277.4 258.8 1272.5 C262.9 1267.6 266.5 1261.0 268.6 1254.5 C270.8 1247.9 271.6 1240.2 271.6 1233.1 C271.6 1226.0 270.5 1218.6 268.6 1211.8 C266.8 1204.9 264.0 1198.1 260.4 1192.1 C256.9 1186.1 252.2 1180.0 247.3 1175.7 C242.4 1171.3 236.9 1168.1 230.9 1165.8 C224.8 1163.6 217.2 1162.6 211.2 1162.2 C205.1 1161.8 199.1 1163.6 194.8 1163.3 C190.4 1163.1 186.8 1160.7 184.9 1160.9 C183.0 1161.0 182.7 1162.3 183.3 1164.2Z" fill="url(#lg22)"/>
<g clip-path="url(#cp23)">
<ellipse cx="258.8" cy="1221.6" rx="10" ry="28" fill="#d18b79" opacity="0.85" transform="rotate(-12 258.8 1221.6)" filter="url(#b4)"/>
<ellipse cx="229.2" cy="1272.5" rx="26" ry="18" fill="#93564a" opacity="0.9" filter="url(#b4)"/>
</g>
<circle cx="210.8" cy="1147.8" r="3.8" fill="url(#rg24)" stroke="#98b1e2" stroke-width="0.7" opacity="0.9"/>
<circle cx="164.9" cy="1158.8" r="3.8" fill="url(#rg24)" stroke="#98b1e2" stroke-width="0.7" opacity="0.9"/>
<circle cx="189.3" cy="1159.2" r="5.9" fill="url(#rg24)" stroke="#98b1e2" stroke-width="0.7" opacity="0.9"/>
<circle cx="223.0" cy="1172.0" r="5.9" fill="url(#rg24)" stroke="#98b1e2" stroke-width="0.7" opacity="0.9"/>
<circle cx="145.0" cy="1184.4" r="4.6" fill="url(#rg24)" stroke="#98b1e2" stroke-width="0.7" opacity="0.9"/>
<circle cx="169.1" cy="1184.7" r="5.9" fill="url(#rg24)" stroke="#98b1e2" stroke-width="0.7" opacity="0.9"/>
<circle cx="119.1" cy="1192.4" r="6.3" fill="url(#rg24)" stroke="#98b1e2" stroke-width="0.7" opacity="0.9"/>
<circle cx="220.0" cy="1201.1" r="3.8" fill="url(#rg24)" stroke="#98b1e2" stroke-width="0.7" opacity="0.9"/>
<circle cx="148.5" cy="1207.8" r="3.6" fill="url(#rg24)" stroke="#98b1e2" stroke-width="0.7" opacity="0.9"/>
<circle cx="203.8" cy="1208.5" r="6.3" fill="url(#rg24)" stroke="#98b1e2" stroke-width="0.7" opacity="0.9"/>
<circle cx="233.0" cy="1212.1" r="5.9" fill="url(#rg24)" stroke="#98b1e2" stroke-width="0.7" opacity="0.9"/>
<circle cx="124.7" cy="1218.3" r="6.3" fill="url(#rg24)" stroke="#98b1e2" stroke-width="0.7" opacity="0.9"/>
<circle cx="166.8" cy="1228.2" r="6.3" fill="url(#rg24)" stroke="#98b1e2" stroke-width="0.7" opacity="0.9"/>
<circle cx="191.0" cy="1228.2" r="3.6" fill="url(#rg24)" stroke="#98b1e2" stroke-width="0.7" opacity="0.9"/>
<circle cx="202.5" cy="1239.8" r="3.8" fill="url(#rg24)" stroke="#98b1e2" stroke-width="0.7" opacity="0.9"/>
<circle cx="268.3" cy="1243.0" r="5.9" fill="url(#rg24)" stroke="#98b1e2" stroke-width="0.7" opacity="0.9"/>
<circle cx="176.2" cy="1252.0" r="3.8" fill="url(#rg24)" stroke="#98b1e2" stroke-width="0.7" opacity="0.9"/>
<circle cx="144.2" cy="1253.8" r="4.6" fill="url(#rg24)" stroke="#98b1e2" stroke-width="0.7" opacity="0.9"/>
<circle cx="113.0" cy="1255.1" r="4.3" fill="url(#rg24)" stroke="#98b1e2" stroke-width="0.7" opacity="0.9"/>
<circle cx="130.9" cy="1272.5" r="3.6" fill="url(#rg24)" stroke="#98b1e2" stroke-width="0.7" opacity="0.9"/>
<circle cx="191.3" cy="1272.5" r="4.6" fill="url(#rg24)" stroke="#98b1e2" stroke-width="0.7" opacity="0.9"/>
<circle cx="173.3" cy="1282.0" r="3.8" fill="url(#rg24)" stroke="#98b1e2" stroke-width="0.7" opacity="0.9"/>
<circle cx="232.2" cy="1289.6" r="6.3" fill="url(#rg24)" stroke="#98b1e2" stroke-width="0.7" opacity="0.9"/>
<circle cx="154.0" cy="1294.7" r="6.3" fill="url(#rg24)" stroke="#98b1e2" stroke-width="0.7" opacity="0.9"/>
<circle cx="200.2" cy="1300.9" r="6.3" fill="url(#rg24)" stroke="#98b1e2" stroke-width="0.7" opacity="0.9"/>
<ellipse cx="520.0" cy="1436.0" rx="115.0" ry="38.0" fill="url(#gshadow)" opacity="0.90" transform="rotate(-4.0 520.0 1436.0)"/>
<path d="M597.6 1328.9 C599.1 1333.7 597.6 1339.3 598.5 1344.5 C599.4 1349.6 603.0 1354.6 602.9 1359.6 C602.9 1364.7 599.2 1369.6 598.3 1374.7 C597.3 1379.8 598.9 1385.6 597.3 1390.4 C595.7 1395.1 591.1 1398.9 588.6 1403.4 C586.1 1408.0 585.5 1413.9 582.4 1417.8 C579.2 1421.8 573.3 1423.5 569.5 1427.1 C565.7 1430.7 563.7 1436.4 559.6 1439.3 C555.4 1442.3 549.4 1442.4 544.6 1444.6 C539.9 1446.9 536.1 1451.3 531.2 1452.8 C526.3 1454.3 520.6 1452.9 515.5 1453.7 C510.3 1454.6 505.2 1458.2 500.1 1458.1 C494.9 1458.1 490.0 1454.5 484.8 1453.5 C479.6 1452.6 473.7 1454.2 468.9 1452.6 C464.0 1451.0 460.2 1446.4 455.6 1444.0 C450.9 1441.5 445.0 1441.0 441.0 1437.9 C437.0 1434.7 435.2 1428.9 431.6 1425.2 C427.9 1421.4 422.1 1419.5 419.1 1415.4 C416.2 1411.3 416.1 1405.4 413.8 1400.7 C411.5 1396.0 407.0 1392.3 405.4 1387.5 C403.9 1382.7 405.4 1377.1 404.5 1371.9 C403.6 1366.8 400.0 1361.8 400.1 1356.8 C400.1 1351.7 403.8 1346.8 404.7 1341.7 C405.7 1336.6 404.1 1330.8 405.7 1326.0 C407.3 1321.3 411.9 1317.5 414.4 1313.0 C416.9 1308.4 417.5 1302.5 420.6 1298.6 C423.8 1294.6 429.7 1292.9 433.5 1289.3 C437.3 1285.7 439.3 1280.0 443.4 1277.1 C447.6 1274.1 453.6 1274.0 458.4 1271.8 C463.1 1269.5 466.9 1265.1 471.8 1263.6 C476.7 1262.1 482.4 1263.5 487.5 1262.7 C492.7 1261.8 497.8 1258.2 502.9 1258.3 C508.1 1258.3 513.0 1261.9 518.2 1262.9 C523.4 1263.8 529.3 1262.2 534.1 1263.8 C539.0 1265.4 542.8 1270.0 547.4 1272.4 C552.1 1274.9 558.0 1275.4 562.0 1278.5 C566.0 1281.7 567.8 1287.5 571.4 1291.2 C575.1 1295.0 580.9 1296.9 583.9 1301.0 C586.8 1305.1 586.9 1311.0 589.2 1315.7 C591.5 1320.4 596.0 1324.1 597.6 1328.9Z" fill="url(#rg25)"/>
<g clip-path="url(#cp26)">
<path d="M600.0 1345.1 C598.3 1395.9 560.6 1445.2 494.9 1455.0 L511.3 1478.0 L626.2 1453.4 Z" fill="#eca040" opacity="0.75" filter="url(#b8)"/>
<path d="M597.6 1328.9 C599.1 1333.7 597.6 1339.3 598.5 1344.5 C599.4 1349.6 603.0 1354.6 602.9 1359.6 C602.9 1364.7 599.2 1369.6 598.3 1374.7 C597.3 1379.8 598.9 1385.6 597.3 1390.4 C595.7 1395.1 591.1 1398.9 588.6 1403.4 C586.1 1408.0 585.5 1413.9 582.4 1417.8 C579.2 1421.8 573.3 1423.5 569.5 1427.1 C565.7 1430.7 563.7 1436.4 559.6 1439.3 C555.4 1442.3 549.4 1442.4 544.6 1444.6 C539.9 1446.9 536.1 1451.3 531.2 1452.8 C526.3 1454.3 520.6 1452.9 515.5 1453.7 C510.3 1454.6 505.2 1458.2 500.1 1458.1 C494.9 1458.1 490.0 1454.5 484.8 1453.5 C479.6 1452.6 473.7 1454.2 468.9 1452.6 C464.0 1451.0 460.2 1446.4 455.6 1444.0 C450.9 1441.5 445.0 1441.0 441.0 1437.9 C437.0 1434.7 435.2 1428.9 431.6 1425.2 C427.9 1421.4 422.1 1419.5 419.1 1415.4 C416.2 1411.3 416.1 1405.4 413.8 1400.7 C411.5 1396.0 407.0 1392.3 405.4 1387.5 C403.9 1382.7 405.4 1377.1 404.5 1371.9 C403.6 1366.8 400.0 1361.8 400.1 1356.8 C400.1 1351.7 403.8 1346.8 404.7 1341.7 C405.7 1336.6 404.1 1330.8 405.7 1326.0 C407.3 1321.3 411.9 1317.5 414.4 1313.0 C416.9 1308.4 417.5 1302.5 420.6 1298.6 C423.8 1294.6 429.7 1292.9 433.5 1289.3 C437.3 1285.7 439.3 1280.0 443.4 1277.1 C447.6 1274.1 453.6 1274.0 458.4 1271.8 C463.1 1269.5 466.9 1265.1 471.8 1263.6 C476.7 1262.1 482.4 1263.5 487.5 1262.7 C492.7 1261.8 497.8 1258.2 502.9 1258.3 C508.1 1258.3 513.0 1261.9 518.2 1262.9 C523.4 1263.8 529.3 1262.2 534.1 1263.8 C539.0 1265.4 542.8 1270.0 547.4 1272.4 C552.1 1274.9 558.0 1275.4 562.0 1278.5 C566.0 1281.7 567.8 1287.5 571.4 1291.2 C575.1 1295.0 580.9 1296.9 583.9 1301.0 C586.8 1305.1 586.9 1311.0 589.2 1315.7 C591.5 1320.4 596.0 1324.1 597.6 1328.9Z" fill="none" stroke="url(#lg27)" stroke-width="34" filter="url(#b8)"/>
</g>
<path d="M511.3 1318.8 Q524.5 1315.8 536.8 1327.0" fill="none" stroke="#7a431d" stroke-width="4.5"/>
<path d="M546.6 1384.5 Q544.1 1402.5 519.5 1398.4" fill="none" stroke="#7a431d" stroke-width="7"/>
<path d="M494.9 1320.4 C499.8 1318.2 507.2 1316.3 511.3 1317.2 C515.4 1318.0 517.9 1320.4 519.5 1325.4 C521.2 1330.3 520.9 1339.6 521.2 1346.7 C521.4 1353.8 522.0 1362.6 521.2 1368.0 C520.3 1373.5 519.0 1377.3 516.2 1379.5 C513.5 1381.7 508.9 1382.0 504.8 1381.2 C500.7 1380.3 496.3 1377.3 491.6 1374.6 C487.0 1371.9 480.5 1368.0 476.8 1364.8 C473.2 1361.5 470.3 1358.7 469.5 1354.9 C468.6 1351.1 469.9 1345.9 471.9 1341.8 C474.0 1337.7 477.9 1333.8 481.8 1330.3 C485.6 1326.7 490.0 1322.6 494.9 1320.4Z" fill="url(#rg28)"/>
<path d="M529.4 1328.6 C531.0 1326.5 533.5 1325.4 537.6 1325.4 C541.7 1325.4 549.1 1326.5 554.0 1328.6 C558.9 1330.8 564.5 1334.7 567.1 1338.5 C569.7 1342.3 569.9 1346.7 569.6 1351.6 C569.3 1356.5 567.5 1363.4 565.5 1368.0 C563.4 1372.7 560.3 1376.5 557.3 1379.5 C554.3 1382.5 550.4 1385.3 547.4 1386.1 C544.4 1386.9 541.4 1386.9 539.2 1384.5 C537.0 1382.0 535.7 1376.2 534.3 1371.3 C532.9 1366.4 532.1 1360.4 531.0 1354.9 C529.9 1349.4 528.0 1342.9 527.7 1338.5 C527.5 1334.1 527.7 1330.8 529.4 1328.6Z" fill="url(#rg28)"/>
<path d="M471.1 1383.6 C473.7 1382.5 477.8 1384.6 481.8 1386.1 C485.7 1387.6 490.0 1391.3 494.9 1392.7 C499.8 1394.0 507.2 1393.8 511.3 1394.3 C515.4 1394.8 517.9 1394.6 519.5 1395.9 C521.2 1397.3 522.0 1399.5 521.2 1402.5 C520.3 1405.5 517.9 1410.4 514.6 1414.0 C511.3 1417.6 506.1 1421.8 501.5 1423.8 C496.8 1425.9 491.1 1426.9 486.7 1426.3 C482.3 1425.8 478.4 1423.7 475.2 1420.6 C472.1 1417.4 469.3 1412.1 467.8 1407.4 C466.3 1402.8 465.6 1396.6 466.2 1392.7 C466.7 1388.7 468.5 1384.7 471.1 1383.6Z" fill="url(#rg28)"/>
<circle cx="476.8" cy="1275.8" r="6.2" fill="url(#rg29)"/>
<circle cx="512.1" cy="1271.7" r="2.8" fill="url(#rg29)"/>
<circle cx="499.8" cy="1279.1" r="3.6" fill="url(#rg29)"/>
<circle cx="517.4" cy="1283.5" r="3.3" fill="url(#rg29)"/>
<circle cx="504.8" cy="1287.9" r="2.5" fill="url(#rg30)"/>
<circle cx="550.2" cy="1288.1" r="2.5" fill="url(#rg29)"/>
<circle cx="538.1" cy="1295.3" r="3.6" fill="url(#rg29)"/>
<circle cx="463.2" cy="1300.2" r="4.3" fill="url(#rg29)"/>
<circle cx="516.2" cy="1300.4" r="4.3" fill="url(#rg29)"/>
<circle cx="555.5" cy="1299.8" r="3.3" fill="url(#rg29)"/>
<circle cx="542.7" cy="1304.0" r="2.5" fill="url(#rg30)"/>
<circle cx="442.5" cy="1312.2" r="5.7" fill="url(#rg29)"/>
<circle cx="495.9" cy="1312.2" r="5.7" fill="url(#rg29)"/>
<circle cx="472.4" cy="1319.9" r="5.4" fill="url(#rg29)"/>
<circle cx="525.4" cy="1319.9" r="5.3" fill="url(#rg29)"/>
<circle cx="432.7" cy="1329.3" r="4.4" fill="url(#rg29)"/>
<circle cx="450.7" cy="1327.3" r="4.4" fill="url(#rg30)"/>
<circle cx="566.3" cy="1328.1" r="2.5" fill="url(#rg29)"/>
<circle cx="478.5" cy="1337.5" r="4.1" fill="url(#rg29)"/>
<circle cx="554.0" cy="1335.2" r="3.3" fill="url(#rg29)"/>
<circle cx="571.6" cy="1339.6" r="3.0" fill="url(#rg29)"/>
<circle cx="412.3" cy="1341.6" r="5.9" fill="url(#rg29)"/>
<circle cx="558.6" cy="1343.7" r="2.3" fill="url(#rg30)"/>
<circle cx="441.6" cy="1348.8" r="5.4" fill="url(#rg29)"/>
<circle cx="503.9" cy="1327.5" r="4.1" fill="url(#rg30)"/>
<circle cx="575.7" cy="1355.1" r="4.1" fill="url(#rg29)"/>
<circle cx="420.2" cy="1356.2" r="4.4" fill="url(#rg30)"/>
<circle cx="465.9" cy="1359.5" r="5.4" fill="url(#rg29)"/>
<circle cx="487.5" cy="1357.0" r="5.4" fill="url(#rg29)"/>
<circle cx="555.3" cy="1367.2" r="5.4" fill="url(#rg29)"/>
<circle cx="435.5" cy="1375.6" r="2.5" fill="url(#rg29)"/>
<circle cx="464.4" cy="1376.4" r="4.4" fill="url(#rg30)"/>
<circle cx="423.3" cy="1382.6" r="3.6" fill="url(#rg29)"/>
<circle cx="563.2" cy="1382.2" r="4.4" fill="url(#rg30)"/>
<circle cx="545.1" cy="1384.1" r="4.3" fill="url(#rg29)"/>
<circle cx="440.7" cy="1387.1" r="3.3" fill="url(#rg29)"/>
<circle cx="427.9" cy="1391.5" r="2.6" fill="url(#rg30)"/>
<circle cx="524.5" cy="1396.4" r="5.7" fill="url(#rg29)"/>
<circle cx="450.1" cy="1399.6" r="4.4" fill="url(#rg30)"/>
<circle cx="554.3" cy="1403.8" r="5.3" fill="url(#rg29)"/>
<circle cx="570.4" cy="1404.1" r="5.7" fill="url(#rg29)"/>
<circle cx="532.7" cy="1411.0" r="4.4" fill="url(#rg30)"/>
<circle cx="465.2" cy="1418.8" r="2.6" fill="url(#rg29)"/>
<circle cx="453.2" cy="1426.3" r="3.8" fill="url(#rg29)"/>
<circle cx="470.6" cy="1430.4" r="3.3" fill="url(#rg29)"/>
<circle cx="547.9" cy="1430.4" r="2.6" fill="url(#rg29)"/>
<circle cx="457.8" cy="1435.0" r="2.6" fill="url(#rg30)"/>
<ellipse cx="848.0" cy="1345.0" rx="115.0" ry="34.0" fill="url(#gshadow)" opacity="0.90" transform="rotate(-3.0 848.0 1345.0)"/>
<path d="M831.3 1154.7 C840.9 1154.4 849.1 1155.8 855.9 1158.0 C862.8 1160.2 866.9 1162.9 872.4 1167.8 C877.8 1172.8 881.9 1181.0 888.8 1187.5 C895.6 1194.1 907.1 1200.1 913.4 1207.2 C919.7 1214.3 923.5 1221.7 926.5 1230.2 C929.5 1238.7 930.6 1249.4 931.5 1258.1 C932.3 1266.9 932.3 1274.5 931.5 1282.7 C930.6 1290.9 929.0 1299.7 926.5 1307.4 C924.1 1315.0 921.6 1322.1 916.7 1328.7 C911.8 1335.3 904.4 1341.8 897.0 1346.8 C889.6 1351.7 881.9 1355.5 872.4 1358.2 C862.8 1361.0 850.5 1362.9 839.5 1363.2 C828.6 1363.4 817.6 1362.3 806.7 1359.9 C795.8 1357.4 783.4 1353.0 773.9 1348.4 C764.3 1343.7 755.8 1338.8 749.2 1332.0 C742.7 1325.1 738.6 1316.9 734.5 1307.4 C730.4 1297.8 726.8 1284.6 724.6 1274.5 C722.4 1264.4 720.8 1256.2 721.3 1246.6 C721.9 1237.0 724.3 1226.1 727.9 1217.1 C731.5 1208.0 736.4 1199.8 742.7 1192.5 C749.0 1185.1 756.4 1178.2 765.7 1172.8 C775.0 1167.3 787.5 1162.6 798.5 1159.6 C809.4 1156.6 821.7 1155.0 831.3 1154.7Z" fill="url(#rg31)"/>
<g clip-path="url(#cp32)"><path d="M831.3 1154.7 C840.9 1154.4 849.1 1155.8 855.9 1158.0 C862.8 1160.2 866.9 1162.9 872.4 1167.8 C877.8 1172.8 881.9 1181.0 888.8 1187.5 C895.6 1194.1 907.1 1200.1 913.4 1207.2 C919.7 1214.3 923.5 1221.7 926.5 1230.2 C929.5 1238.7 930.6 1249.4 931.5 1258.1 C932.3 1266.9 932.3 1274.5 931.5 1282.7 C930.6 1290.9 929.0 1299.7 926.5 1307.4 C924.1 1315.0 921.6 1322.1 916.7 1328.7 C911.8 1335.3 904.4 1341.8 897.0 1346.8 C889.6 1351.7 881.9 1355.5 872.4 1358.2 C862.8 1361.0 850.5 1362.9 839.5 1363.2 C828.6 1363.4 817.6 1362.3 806.7 1359.9 C795.8 1357.4 783.4 1353.0 773.9 1348.4 C764.3 1343.7 755.8 1338.8 749.2 1332.0 C742.7 1325.1 738.6 1316.9 734.5 1307.4 C730.4 1297.8 726.8 1284.6 724.6 1274.5 C722.4 1264.4 720.8 1256.2 721.3 1246.6 C721.9 1237.0 724.3 1226.1 727.9 1217.1 C731.5 1208.0 736.4 1199.8 742.7 1192.5 C749.0 1185.1 756.4 1178.2 765.7 1172.8 C775.0 1167.3 787.5 1162.6 798.5 1159.6 C809.4 1156.6 821.7 1155.0 831.3 1154.7Z" fill="none" stroke="#e9952a" stroke-width="11" opacity="0.8" filter="url(#b4)"/></g>
<path d="M806.7 1178.5 C814.4 1177.8 824.5 1178.1 831.3 1178.5 C838.2 1178.9 843.4 1179.5 847.7 1181.0 C852.1 1182.5 855.7 1184.8 857.6 1187.5 C859.5 1190.3 859.8 1193.3 859.2 1197.4 C858.7 1201.5 856.8 1206.7 854.3 1212.2 C851.8 1217.6 848.3 1223.9 844.5 1230.2 C840.6 1236.5 834.9 1243.3 831.3 1249.9 C827.8 1256.5 824.8 1263.6 823.1 1269.6 C821.5 1275.6 821.3 1279.7 821.5 1286.0 C821.6 1292.3 823.2 1300.2 823.9 1307.4 C824.7 1314.5 826.2 1323.2 826.1 1328.7 C825.9 1334.2 825.0 1337.5 823.1 1340.2 C821.3 1342.9 818.5 1344.8 814.9 1345.1 C811.3 1345.4 807.2 1344.8 801.8 1341.8 C796.3 1338.8 788.6 1333.3 782.1 1327.1 C775.5 1320.8 768.1 1312.0 762.4 1304.1 C756.6 1296.1 751.3 1287.9 747.6 1279.5 C743.9 1271.0 741.3 1261.4 740.2 1253.2 C739.1 1245.0 739.5 1237.6 741.0 1230.2 C742.5 1222.8 745.1 1215.2 749.2 1208.9 C753.3 1202.6 759.6 1196.8 765.7 1192.5 C771.7 1188.1 778.5 1184.9 785.4 1182.6 C792.2 1180.3 799.0 1179.2 806.7 1178.5Z" fill="url(#lg33)"/>
<g clip-path="url(#cp34)">
<ellipse cx="780.4" cy="1254.8" rx="22" ry="30" fill="#c48a4c" opacity="0.9" filter="url(#b8)"/>
<path d="M806.7 1178.5 C814.4 1177.8 824.5 1178.1 831.3 1178.5 C838.2 1178.9 843.4 1179.5 847.7 1181.0 C852.1 1182.5 855.7 1184.8 857.6 1187.5 C859.5 1190.3 859.8 1193.3 859.2 1197.4 C858.7 1201.5 856.8 1206.7 854.3 1212.2 C851.8 1217.6 848.3 1223.9 844.5 1230.2 C840.6 1236.5 834.9 1243.3 831.3 1249.9 C827.8 1256.5 824.8 1263.6 823.1 1269.6 C821.5 1275.6 821.3 1279.7 821.5 1286.0 C821.6 1292.3 823.2 1300.2 823.9 1307.4 C824.7 1314.5 826.2 1323.2 826.1 1328.7 C825.9 1334.2 825.0 1337.5 823.1 1340.2 C821.3 1342.9 818.5 1344.8 814.9 1345.1 C811.3 1345.4 807.2 1344.8 801.8 1341.8 C796.3 1338.8 788.6 1333.3 782.1 1327.1 C775.5 1320.8 768.1 1312.0 762.4 1304.1 C756.6 1296.1 751.3 1287.9 747.6 1279.5 C743.9 1271.0 741.3 1261.4 740.2 1253.2 C739.1 1245.0 739.5 1237.6 741.0 1230.2 C742.5 1222.8 745.1 1215.2 749.2 1208.9 C753.3 1202.6 759.6 1196.8 765.7 1192.5 C771.7 1188.1 778.5 1184.9 785.4 1182.6 C792.2 1180.3 799.0 1179.2 806.7 1178.5Z" fill="none" stroke="#5f341a" stroke-width="10" opacity="0.75" filter="url(#b4)"/>
</g>
<ellipse cx="1005.0" cy="1076.0" rx="95.0" ry="20.0" fill="url(#gshadow)" opacity="1.00" transform="rotate(0.0 1005.0 1076.0)"/>
<ellipse cx="960" cy="1068" rx="50" ry="10" fill="#7d7d7d" opacity="0.6" filter="url(#b4)"/>
<path d="M930 975 L1000 985 L1010 1010 L960 1040 L905 1010 Z" fill="#c9212a"/>
<path d="M937.8 899.6 C945.4 900.0 955.4 901.1 963.5 904.2 C971.5 907.2 979.8 912.2 986.1 917.8 C992.4 923.3 997.8 930.6 1001.2 937.4 C1004.6 944.2 1006.2 952.0 1006.5 958.5 C1006.9 965.1 1005.4 971.4 1003.5 976.7 C1001.6 981.9 999.4 986.5 995.2 990.3 C991.0 994.0 985.1 997.8 978.6 999.3 C972.0 1000.8 962.7 1001.1 955.9 999.3 C949.1 997.6 944.1 993.3 937.8 988.7 C931.5 984.2 924.0 976.7 918.2 972.1 C912.4 967.6 908.1 965.1 903.1 961.6 C898.0 958.0 891.4 955.0 888.0 951.0 C884.6 947.0 882.9 941.9 882.7 937.4 C882.4 932.9 883.6 928.3 886.5 923.8 C889.4 919.3 894.8 913.9 900.0 910.2 C905.3 906.6 911.9 903.7 918.2 901.9 C924.5 900.1 930.3 899.3 937.8 899.6Z" fill="#cb212a"/>
<g clip-path="url(#cp35)">
<ellipse cx="948.4" cy="941.9" rx="36.3" ry="26.4" transform="rotate(22.0 948.4 941.9)" fill="none" stroke="#9c1c22" stroke-width="24" opacity="0.55" filter="url(#b6)"/>
<ellipse cx="948.4" cy="941.9" rx="33.0" ry="24.0" transform="rotate(22.0 948.4 941.9)" fill="#b01f26" stroke="#7c181c" stroke-width="10" filter="url(#b3)"/>
<ellipse cx="948.4" cy="941.9" rx="16.5" ry="10.8" transform="rotate(22.0 948.4 941.9)" fill="#c7222b" filter="url(#b4)"/>
</g>
<path d="M877.4 954.8 C882.9 955.0 891.5 956.4 898.5 958.5 C905.6 960.7 913.1 964.1 919.7 967.6 C926.2 971.1 933.5 976.2 937.8 979.7 C942.1 983.2 944.6 984.7 945.4 988.7 C946.1 992.8 945.1 999.8 942.3 1003.8 C939.6 1007.9 934.0 1010.9 928.7 1012.9 C923.5 1014.9 918.7 1015.9 910.6 1015.9 C902.6 1015.9 889.7 1014.2 880.4 1012.9 C871.1 1011.7 860.0 1011.7 854.7 1008.4 C849.5 1005.1 849.7 998.3 848.7 993.3 C847.7 988.2 847.7 983.0 848.7 978.2 C849.7 973.4 852.0 968.1 854.7 964.6 C857.5 961.1 861.5 958.7 865.3 957.0 C869.1 955.4 871.9 954.5 877.4 954.8Z" fill="#cb212a"/>
<g clip-path="url(#cp36)">
<ellipse cx="904.6" cy="991.8" rx="30.8" ry="22.0" transform="rotate(15.0 904.6 991.8)" fill="none" stroke="#9c1c22" stroke-width="24" opacity="0.55" filter="url(#b6)"/>
<ellipse cx="904.6" cy="991.8" rx="28.0" ry="20.0" transform="rotate(15.0 904.6 991.8)" fill="#b01f26" stroke="#7c181c" stroke-width="10" filter="url(#b3)"/>
<ellipse cx="904.6" cy="991.8" rx="14.0" ry="9.0" transform="rotate(15.0 904.6 991.8)" fill="#c7222b" filter="url(#b4)"/>
</g>
<path d="M1014.8 978.2 C1020.6 978.9 1031.7 980.9 1039.0 984.2 C1046.3 987.5 1052.8 992.8 1058.6 997.8 C1064.4 1002.8 1070.0 1008.6 1073.7 1014.4 C1077.5 1020.2 1080.8 1026.5 1081.3 1032.5 C1081.8 1038.6 1080.0 1045.6 1076.8 1050.7 C1073.5 1055.7 1067.9 1060.1 1061.7 1062.8 C1055.4 1065.4 1045.5 1066.2 1039.0 1066.5 C1032.5 1066.9 1027.4 1067.2 1022.4 1065.0 C1017.4 1062.9 1013.6 1059.4 1008.8 1053.7 C1004.0 1048.0 997.5 1038.6 993.7 1031.0 C989.9 1023.5 986.6 1014.4 986.1 1008.4 C985.6 1002.3 989.2 998.8 990.7 994.8 C992.2 990.8 992.9 986.7 995.2 984.2 C997.5 981.7 1001.0 980.7 1004.3 979.7 C1007.5 978.7 1009.0 977.4 1014.8 978.2Z" fill="#cb212a"/>
<g clip-path="url(#cp37)">
<ellipse cx="1031.4" cy="1023.5" rx="33.0" ry="24.2" transform="rotate(30.0 1031.4 1023.5)" fill="none" stroke="#9c1c22" stroke-width="24" opacity="0.55" filter="url(#b6)"/>
<ellipse cx="1031.4" cy="1023.5" rx="30.0" ry="22.0" transform="rotate(30.0 1031.4 1023.5)" fill="#b01f26" stroke="#7c181c" stroke-width="10" filter="url(#b3)"/>
<ellipse cx="1031.4" cy="1023.5" rx="15.0" ry="9.9" transform="rotate(30.0 1031.4 1023.5)" fill="#c7222b" filter="url(#b4)"/>
</g>
<path d="M888.0 1000.8 C894.8 1001.3 904.1 1003.1 910.6 1005.4 C917.2 1007.6 922.5 1010.4 927.2 1014.4 C932.0 1018.4 936.5 1024.2 939.3 1029.5 C942.1 1034.8 943.6 1040.9 943.8 1046.1 C944.1 1051.4 943.3 1056.7 940.8 1061.2 C938.3 1065.8 934.3 1070.6 928.7 1073.3 C923.2 1076.1 914.9 1077.6 907.6 1077.9 C900.3 1078.1 892.5 1077.1 884.9 1074.8 C877.4 1072.6 869.1 1068.5 862.3 1064.3 C855.5 1060.0 848.3 1054.4 844.2 1049.2 C840.0 1043.9 837.9 1037.6 837.4 1032.5 C836.9 1027.5 838.5 1023.0 841.1 1019.0 C843.8 1014.9 848.4 1011.1 853.2 1008.4 C858.0 1005.6 864.1 1003.6 869.8 1002.3 C875.6 1001.1 881.2 1000.3 888.0 1000.8Z" fill="#cb212a"/>
<g clip-path="url(#cp38)">
<ellipse cx="892.5" cy="1035.6" rx="33.0" ry="23.1" transform="rotate(22.0 892.5 1035.6)" fill="none" stroke="#9c1c22" stroke-width="24" opacity="0.55" filter="url(#b6)"/>
<ellipse cx="892.5" cy="1035.6" rx="30.0" ry="21.0" transform="rotate(22.0 892.5 1035.6)" fill="#b01f26" stroke="#7c181c" stroke-width="10" filter="url(#b3)"/>
<ellipse cx="892.5" cy="1035.6" rx="15.0" ry="9.5" transform="rotate(22.0 892.5 1035.6)" fill="#c7222b" filter="url(#b4)"/>
</g>
<path d="M955.9 991.8 C962.0 992.0 971.5 992.5 978.6 994.8 C985.6 997.1 992.2 1000.6 998.2 1005.4 C1004.3 1010.1 1010.3 1017.2 1014.8 1023.5 C1019.4 1029.8 1023.4 1036.8 1025.4 1043.1 C1027.4 1049.4 1028.2 1056.0 1026.9 1061.2 C1025.7 1066.5 1022.1 1071.8 1017.9 1074.8 C1013.6 1077.9 1007.5 1079.4 1001.2 1079.4 C994.9 1079.4 987.1 1077.6 980.1 1074.8 C973.0 1072.1 965.0 1067.5 959.0 1062.8 C952.9 1058.0 948.1 1051.7 943.8 1046.1 C939.6 1040.6 935.9 1035.1 933.3 1029.5 C930.6 1024.0 928.2 1017.7 928.0 1012.9 C927.7 1008.1 929.4 1004.1 931.8 1000.8 C934.2 997.6 938.3 994.8 942.3 993.3 C946.4 991.8 949.9 991.5 955.9 991.8Z" fill="#cb212a"/>
<g clip-path="url(#cp39)">
<ellipse cx="981.6" cy="1032.5" rx="33.0" ry="24.2" transform="rotate(40.0 981.6 1032.5)" fill="none" stroke="#9c1c22" stroke-width="24" opacity="0.55" filter="url(#b6)"/>
<ellipse cx="981.6" cy="1032.5" rx="30.0" ry="22.0" transform="rotate(40.0 981.6 1032.5)" fill="#b01f26" stroke="#7c181c" stroke-width="10" filter="url(#b3)"/>
<ellipse cx="981.6" cy="1032.5" rx="15.0" ry="9.9" transform="rotate(40.0 981.6 1032.5)" fill="#c7222b" filter="url(#b4)"/>
</g>
<path d="M262.6 728.3 C262.9 727.8 262.3 725.5 262.0 724.2 C261.7 723.0 261.4 721.8 261.0 720.8 C260.6 719.7 260.1 718.8 259.5 717.9 C259.0 717.1 258.3 716.4 257.5 715.8 C256.8 715.1 256.1 714.5 255.3 713.9 C254.5 713.4 253.6 712.9 252.8 712.5 C251.9 712.1 251.0 711.7 250.0 711.4 C249.0 711.0 248.0 710.8 246.9 710.6 C245.9 710.4 244.9 710.1 243.6 710.2 C242.4 710.2 239.9 710.3 239.5 710.8 C239.1 711.3 240.7 712.4 241.4 713.1 C242.1 713.7 243.0 714.2 243.8 714.8 C244.5 715.3 245.3 715.9 246.1 716.5 C246.9 717.0 247.6 717.6 248.4 718.2 C249.2 718.8 249.9 719.4 250.6 720.1 C251.4 720.7 252.1 721.3 252.8 722.0 C253.6 722.6 254.2 723.3 255.0 723.9 C255.8 724.5 256.6 725.0 257.4 725.6 C258.2 726.1 259.0 726.6 259.9 727.0 C260.8 727.5 262.2 728.8 262.6 728.3Z" fill="#d8e9f8" stroke="#a3cbee" stroke-width="1.1" stroke-linejoin="round"/>
<path d="M262.6 728.3 C263.1 728.0 263.2 726.4 263.3 725.6 C263.5 724.7 263.6 723.8 263.7 723.1 C263.7 722.3 263.6 721.5 263.5 720.8 C263.3 720.1 263.0 719.5 262.7 718.8 C262.5 718.2 262.1 717.6 261.8 717.0 C261.4 716.3 261.0 715.8 260.6 715.2 C260.2 714.6 259.7 714.1 259.3 713.5 C258.8 713.0 258.3 712.4 257.7 711.9 C257.2 711.4 256.7 710.9 255.9 710.5 C255.2 710.1 253.7 709.2 253.2 709.5 C252.6 709.8 252.7 711.3 252.6 712.1 C252.6 712.9 252.8 713.6 253.0 714.3 C253.1 715.0 253.3 715.7 253.5 716.4 C253.7 717.1 253.9 717.7 254.1 718.4 C254.4 719.1 254.6 719.7 254.9 720.4 C255.2 721.0 255.5 721.7 255.8 722.3 C256.1 722.9 256.4 723.6 256.8 724.1 C257.2 724.7 257.7 725.2 258.3 725.7 C258.9 726.2 259.5 726.7 260.2 727.1 C260.9 727.5 262.0 728.6 262.6 728.3Z" fill="#d8e9f8" stroke="#a3cbee" stroke-width="1.1" stroke-linejoin="round"/>
<path d="M262.6 728.3 C263.0 728.7 264.2 727.6 265.0 727.2 C265.8 726.8 266.5 726.4 267.2 725.9 C268.0 725.4 268.6 724.9 269.3 724.4 C269.9 723.8 270.5 723.2 271.1 722.5 C271.6 721.9 272.2 721.3 272.8 720.7 C273.4 720.1 274.0 719.5 274.6 718.9 C275.2 718.3 275.8 717.7 276.4 717.1 C277.0 716.6 277.7 716.0 278.3 715.4 C278.9 714.8 279.6 714.3 280.1 713.6 C280.6 712.9 281.8 711.7 281.3 711.2 C280.9 710.8 278.7 710.9 277.6 710.9 C276.5 710.9 275.6 711.2 274.7 711.5 C273.8 711.7 272.9 712.0 272.1 712.4 C271.3 712.7 270.5 713.1 269.8 713.6 C269.0 714.0 268.3 714.5 267.7 715.0 C267.0 715.6 266.4 716.1 265.8 716.8 C265.2 717.4 264.7 718.0 264.2 718.8 C263.8 719.6 263.5 720.5 263.2 721.5 C263.0 722.4 262.8 723.5 262.7 724.6 C262.5 725.8 262.2 727.9 262.6 728.3Z" fill="#d8e9f8" stroke="#a3cbee" stroke-width="1.1" stroke-linejoin="round"/>
<path d="M262.6 728.3 C262.7 728.9 264.6 728.9 265.6 729.1 C266.5 729.2 267.5 729.4 268.5 729.4 C269.4 729.5 270.4 729.5 271.3 729.4 C272.2 729.3 273.1 729.0 274.1 728.8 C275.0 728.6 275.9 728.4 276.8 728.2 C277.7 728.0 278.6 727.7 279.5 727.5 C280.4 727.2 281.2 726.9 282.1 726.6 C283.0 726.4 283.9 726.1 284.8 725.7 C285.7 725.4 286.6 725.2 287.4 724.7 C288.3 724.2 290.0 723.3 289.9 722.7 C289.8 722.1 287.7 721.5 286.7 721.1 C285.7 720.8 284.7 720.7 283.7 720.6 C282.8 720.4 281.8 720.4 280.9 720.3 C279.9 720.3 279.0 720.3 278.0 720.4 C277.1 720.4 276.2 720.5 275.2 720.7 C274.3 720.8 273.4 721.0 272.5 721.2 C271.6 721.4 270.7 721.6 269.8 722.0 C269.0 722.4 268.1 723.0 267.3 723.6 C266.5 724.2 265.7 724.8 264.9 725.6 C264.1 726.4 262.4 727.7 262.6 728.3Z" fill="#d8e9f8" stroke="#a3cbee" stroke-width="1.1" stroke-linejoin="round"/>
<path d="M262.6 728.3 C262.4 728.9 263.8 730.2 264.5 731.1 C265.2 731.9 265.8 732.6 266.6 733.3 C267.3 733.9 268.0 734.5 268.8 734.9 C269.6 735.3 270.4 735.6 271.2 735.8 C272.0 736.1 272.8 736.3 273.7 736.5 C274.5 736.6 275.3 736.7 276.2 736.8 C277.1 736.9 277.9 736.9 278.8 736.9 C279.7 736.9 280.6 736.9 281.5 736.8 C282.4 736.7 283.3 736.6 284.3 736.3 C285.2 735.9 287.2 735.3 287.3 734.7 C287.5 734.1 285.9 733.2 285.2 732.7 C284.4 732.2 283.6 732.0 282.8 731.7 C282.0 731.3 281.2 731.0 280.4 730.7 C279.6 730.4 278.8 730.1 278.0 729.8 C277.2 729.5 276.4 729.3 275.6 729.0 C274.8 728.8 274.0 728.5 273.1 728.3 C272.3 728.0 271.5 727.8 270.7 727.6 C269.8 727.5 268.9 727.5 268.1 727.5 C267.2 727.5 266.3 727.6 265.4 727.7 C264.4 727.8 262.7 727.7 262.6 728.3Z" fill="#d8e9f8" stroke="#a3cbee" stroke-width="1.1" stroke-linejoin="round"/>
<path d="M262.6 728.3 C262.1 728.7 262.7 730.9 262.9 732.1 C263.1 733.2 263.4 734.4 263.8 735.4 C264.1 736.5 264.5 737.5 265.0 738.4 C265.5 739.3 266.2 740.0 266.8 740.8 C267.5 741.6 268.2 742.3 268.9 743.0 C269.6 743.7 270.3 744.4 271.1 745.0 C271.9 745.7 272.7 746.3 273.6 746.9 C274.5 747.4 275.4 748.0 276.3 748.5 C277.2 749.0 278.1 749.5 279.3 749.9 C280.4 750.2 282.6 750.9 283.1 750.5 C283.5 750.1 282.4 748.3 281.9 747.4 C281.5 746.5 280.8 745.7 280.2 744.9 C279.6 744.1 279.0 743.3 278.3 742.5 C277.7 741.7 277.1 740.9 276.4 740.1 C275.8 739.4 275.2 738.6 274.5 737.8 C273.9 737.0 273.2 736.3 272.6 735.5 C271.9 734.8 271.3 734.0 270.5 733.3 C269.8 732.6 269.0 732.0 268.1 731.4 C267.3 730.8 266.4 730.2 265.5 729.7 C264.6 729.2 263.0 727.9 262.6 728.3Z" fill="#d8e9f8" stroke="#a3cbee" stroke-width="1.1" stroke-linejoin="round"/>
<path d="M262.6 728.3 C262.0 728.2 261.3 729.5 260.7 730.2 C260.2 730.8 259.7 731.4 259.3 732.1 C258.9 732.8 258.6 733.4 258.4 734.1 C258.2 734.8 258.1 735.5 258.0 736.2 C257.9 736.9 257.8 737.6 257.8 738.3 C257.7 739.0 257.7 739.7 257.7 740.4 C257.7 741.1 257.7 741.8 257.7 742.5 C257.8 743.3 257.8 744.0 257.9 744.7 C258.0 745.4 258.0 746.1 258.3 746.9 C258.5 747.6 259.0 749.1 259.6 749.2 C260.2 749.3 261.3 748.0 261.9 747.4 C262.5 746.8 262.7 746.1 263.1 745.4 C263.5 744.8 263.8 744.1 264.1 743.5 C264.4 742.8 264.6 742.1 264.8 741.4 C265.1 740.7 265.2 740.1 265.4 739.4 C265.5 738.7 265.7 738.0 265.7 737.3 C265.8 736.6 265.9 735.9 265.8 735.2 C265.7 734.4 265.5 733.7 265.3 732.9 C265.0 732.2 264.6 731.4 264.2 730.7 C263.7 729.9 263.1 728.4 262.6 728.3Z" fill="#d8e9f8" stroke="#a3cbee" stroke-width="1.1" stroke-linejoin="round"/>
<path d="M262.6 728.3 C262.3 727.8 260.6 728.2 259.6 728.3 C258.7 728.3 257.8 728.4 256.9 728.6 C256.0 728.7 255.1 728.9 254.3 729.2 C253.4 729.5 252.7 730.0 251.9 730.3 C251.1 730.7 250.3 731.1 249.5 731.6 C248.8 732.0 248.0 732.4 247.2 732.8 C246.5 733.3 245.7 733.7 244.9 734.2 C244.2 734.6 243.4 735.1 242.7 735.5 C241.9 736.0 241.2 736.4 240.5 737.1 C239.8 737.7 238.4 738.8 238.7 739.4 C238.9 739.9 241.0 740.2 242.0 740.4 C243.1 740.5 244.0 740.4 244.9 740.3 C245.8 740.3 246.8 740.1 247.6 740.0 C248.5 739.8 249.4 739.6 250.3 739.4 C251.1 739.1 252.0 738.8 252.8 738.5 C253.6 738.2 254.4 737.8 255.2 737.4 C255.9 737.0 256.7 736.6 257.4 736.0 C258.1 735.5 258.8 734.8 259.4 734.0 C260.0 733.2 260.6 732.4 261.1 731.4 C261.6 730.5 262.8 728.8 262.6 728.3Z" fill="#d8e9f8" stroke="#a3cbee" stroke-width="1.1" stroke-linejoin="round"/>
<path d="M318.9 747.1 C319.3 746.6 318.6 744.3 318.3 743.0 C318.1 741.8 317.7 740.6 317.3 739.6 C316.9 738.5 316.4 737.5 315.9 736.7 C315.3 735.9 314.6 735.2 313.9 734.5 C313.2 733.9 312.4 733.3 311.6 732.7 C310.8 732.2 310.0 731.7 309.1 731.3 C308.2 730.8 307.3 730.5 306.3 730.1 C305.4 729.8 304.4 729.5 303.3 729.4 C302.2 729.2 301.2 728.9 300.0 729.0 C298.7 729.0 296.2 729.1 295.9 729.6 C295.5 730.1 297.0 731.2 297.8 731.9 C298.5 732.5 299.3 733.0 300.1 733.6 C300.9 734.1 301.7 734.7 302.4 735.3 C303.2 735.8 304.0 736.4 304.7 737.0 C305.5 737.6 306.2 738.2 307.0 738.8 C307.7 739.5 308.5 740.1 309.2 740.7 C309.9 741.4 310.6 742.1 311.3 742.7 C312.1 743.3 312.9 743.8 313.7 744.3 C314.5 744.9 315.4 745.3 316.2 745.8 C317.1 746.3 318.6 747.5 318.9 747.1Z" fill="#d8e9f8" stroke="#a3cbee" stroke-width="1.1" stroke-linejoin="round"/>
<path d="M318.9 747.1 C319.4 746.8 319.5 745.2 319.7 744.3 C319.9 743.5 320.0 742.6 320.0 741.8 C320.0 741.0 320.0 740.3 319.8 739.6 C319.7 738.9 319.4 738.2 319.1 737.6 C318.8 737.0 318.5 736.3 318.1 735.7 C317.8 735.1 317.4 734.5 317.0 734.0 C316.5 733.4 316.1 732.8 315.6 732.3 C315.1 731.8 314.6 731.2 314.1 730.7 C313.5 730.2 313.0 729.7 312.3 729.3 C311.5 728.9 310.1 728.0 309.5 728.3 C309.0 728.6 309.0 730.1 309.0 730.9 C309.0 731.7 309.2 732.4 309.3 733.1 C309.5 733.8 309.7 734.5 309.9 735.2 C310.0 735.9 310.3 736.5 310.5 737.2 C310.7 737.9 311.0 738.5 311.2 739.2 C311.5 739.8 311.8 740.5 312.1 741.1 C312.4 741.7 312.7 742.3 313.1 742.9 C313.5 743.5 314.1 744.0 314.7 744.5 C315.2 745.0 315.9 745.5 316.6 745.9 C317.3 746.3 318.4 747.3 318.9 747.1Z" fill="#d8e9f8" stroke="#a3cbee" stroke-width="1.1" stroke-linejoin="round"/>
<path d="M318.9 747.1 C319.3 747.5 320.6 746.4 321.3 746.0 C322.1 745.6 322.9 745.1 323.6 744.7 C324.3 744.2 325.0 743.7 325.6 743.2 C326.3 742.6 326.8 741.9 327.4 741.3 C328.0 740.7 328.6 740.1 329.2 739.5 C329.8 738.9 330.4 738.3 331.0 737.7 C331.6 737.1 332.2 736.5 332.8 735.9 C333.4 735.3 334.0 734.8 334.6 734.2 C335.2 733.6 335.9 733.1 336.4 732.4 C336.9 731.7 338.1 730.5 337.7 730.0 C337.3 729.6 335.1 729.6 334.0 729.7 C332.9 729.7 332.0 730.0 331.1 730.3 C330.1 730.5 329.3 730.8 328.5 731.2 C327.6 731.5 326.8 731.9 326.1 732.4 C325.4 732.8 324.7 733.3 324.0 733.8 C323.3 734.4 322.7 734.9 322.2 735.6 C321.6 736.2 321.0 736.8 320.6 737.6 C320.1 738.4 319.8 739.3 319.6 740.2 C319.3 741.2 319.1 742.3 319.0 743.4 C318.9 744.5 318.5 746.6 318.9 747.1Z" fill="#d8e9f8" stroke="#a3cbee" stroke-width="1.1" stroke-linejoin="round"/>
<path d="M318.9 747.1 C319.0 747.6 320.9 747.6 321.9 747.8 C322.9 748.0 323.9 748.1 324.8 748.2 C325.8 748.3 326.7 748.3 327.7 748.2 C328.6 748.1 329.5 747.8 330.4 747.6 C331.3 747.4 332.2 747.2 333.1 747.0 C334.0 746.7 334.9 746.5 335.8 746.2 C336.7 746.0 337.6 745.7 338.5 745.4 C339.4 745.1 340.3 744.8 341.1 744.5 C342.0 744.2 342.9 744.0 343.8 743.5 C344.6 743.0 346.3 742.1 346.2 741.5 C346.1 740.9 344.1 740.3 343.0 739.9 C342.0 739.5 341.1 739.5 340.1 739.4 C339.1 739.2 338.2 739.2 337.2 739.1 C336.2 739.1 335.3 739.1 334.4 739.2 C333.4 739.2 332.5 739.3 331.6 739.4 C330.7 739.6 329.7 739.8 328.8 740.0 C327.9 740.2 327.0 740.4 326.2 740.8 C325.3 741.2 324.5 741.7 323.6 742.3 C322.8 742.9 322.0 743.6 321.2 744.4 C320.4 745.2 318.8 746.5 318.9 747.1Z" fill="#d8e9f8" stroke="#a3cbee" stroke-width="1.1" stroke-linejoin="round"/>
<path d="M318.9 747.1 C318.8 747.6 320.2 749.0 320.8 749.8 C321.5 750.7 322.2 751.4 322.9 752.0 C323.6 752.7 324.4 753.2 325.1 753.7 C325.9 754.1 326.7 754.3 327.5 754.6 C328.3 754.9 329.2 755.1 330.0 755.2 C330.8 755.4 331.7 755.5 332.5 755.6 C333.4 755.7 334.3 755.7 335.2 755.7 C336.0 755.7 336.9 755.7 337.8 755.5 C338.8 755.4 339.6 755.4 340.6 755.0 C341.6 754.7 343.5 754.1 343.7 753.5 C343.8 752.9 342.3 752.0 341.5 751.5 C340.8 751.0 340.0 750.8 339.2 750.4 C338.4 750.1 337.6 749.8 336.8 749.5 C336.0 749.2 335.2 748.9 334.4 748.6 C333.5 748.3 332.7 748.1 331.9 747.8 C331.1 747.5 330.3 747.3 329.5 747.1 C328.7 746.8 327.8 746.5 327.0 746.4 C326.2 746.3 325.3 746.2 324.4 746.3 C323.5 746.3 322.6 746.3 321.7 746.5 C320.8 746.6 319.0 746.5 318.9 747.1Z" fill="#d8e9f8" stroke="#a3cbee" stroke-width="1.1" stroke-linejoin="round"/>
<path d="M318.9 747.1 C318.5 747.5 319.1 749.7 319.3 750.8 C319.5 752.0 319.7 753.1 320.1 754.2 C320.4 755.2 320.8 756.2 321.4 757.1 C321.9 758.0 322.5 758.8 323.2 759.6 C323.8 760.4 324.5 761.1 325.2 761.8 C325.9 762.5 326.7 763.2 327.5 763.8 C328.3 764.5 329.1 765.1 330.0 765.7 C330.8 766.2 331.7 766.8 332.6 767.3 C333.6 767.8 334.5 768.3 335.6 768.7 C336.7 769.0 338.9 769.7 339.4 769.3 C339.8 768.9 338.8 767.1 338.3 766.2 C337.8 765.3 337.1 764.5 336.5 763.7 C335.9 762.9 335.3 762.1 334.7 761.3 C334.1 760.5 333.4 759.7 332.8 758.9 C332.2 758.1 331.5 757.4 330.9 756.6 C330.2 755.8 329.6 755.1 328.9 754.3 C328.2 753.5 327.6 752.7 326.9 752.0 C326.1 751.4 325.3 750.7 324.5 750.1 C323.6 749.5 322.8 749.0 321.8 748.5 C320.9 748.0 319.3 746.7 318.9 747.1Z" fill="#d8e9f8" stroke="#a3cbee" stroke-width="1.1" stroke-linejoin="round"/>
<path d="M318.9 747.1 C318.3 747.0 317.6 748.3 317.1 748.9 C316.5 749.6 316.1 750.2 315.7 750.9 C315.3 751.5 315.0 752.2 314.7 752.9 C314.5 753.6 314.5 754.3 314.4 755.0 C314.3 755.7 314.2 756.4 314.1 757.1 C314.1 757.8 314.0 758.5 314.0 759.2 C314.0 759.9 314.0 760.6 314.1 761.3 C314.1 762.0 314.1 762.8 314.2 763.5 C314.3 764.2 314.3 764.9 314.6 765.7 C314.9 766.4 315.3 767.9 315.9 768.0 C316.5 768.1 317.6 766.8 318.2 766.2 C318.8 765.6 319.1 764.9 319.5 764.2 C319.8 763.6 320.1 762.9 320.4 762.2 C320.7 761.6 321.0 760.9 321.2 760.2 C321.4 759.5 321.6 758.8 321.7 758.1 C321.9 757.5 322.0 756.8 322.1 756.1 C322.1 755.4 322.2 754.7 322.2 753.9 C322.1 753.2 321.9 752.5 321.6 751.7 C321.3 751.0 321.0 750.2 320.5 749.4 C320.1 748.7 319.5 747.2 318.9 747.1Z" fill="#d8e9f8" stroke="#a3cbee" stroke-width="1.1" stroke-linejoin="round"/>
<path d="M318.9 747.1 C318.7 746.5 316.9 747.0 316.0 747.0 C315.0 747.1 314.1 747.2 313.2 747.3 C312.3 747.5 311.5 747.7 310.6 748.0 C309.8 748.3 309.0 748.7 308.2 749.1 C307.4 749.5 306.7 749.9 305.9 750.3 C305.1 750.7 304.3 751.2 303.6 751.6 C302.8 752.0 302.0 752.5 301.3 752.9 C300.5 753.4 299.8 753.8 299.0 754.3 C298.3 754.8 297.5 755.2 296.8 755.8 C296.2 756.5 294.7 757.6 295.0 758.2 C295.3 758.7 297.3 759.0 298.4 759.1 C299.4 759.3 300.3 759.2 301.2 759.1 C302.2 759.0 303.1 758.9 304.0 758.8 C304.9 758.6 305.8 758.4 306.6 758.2 C307.5 757.9 308.3 757.6 309.1 757.3 C309.9 757.0 310.7 756.6 311.5 756.2 C312.3 755.8 313.1 755.4 313.8 754.8 C314.5 754.2 315.1 753.5 315.7 752.8 C316.3 752.0 316.9 751.1 317.4 750.2 C318.0 749.2 319.1 747.6 318.9 747.1Z" fill="#d8e9f8" stroke="#a3cbee" stroke-width="1.1" stroke-linejoin="round"/>
<path d="M280.5 786.3 C281.0 786.2 281.4 784.0 281.8 782.8 C282.1 781.7 282.3 780.5 282.5 779.4 C282.6 778.4 282.7 777.3 282.6 776.3 C282.5 775.2 282.2 774.3 282.0 773.3 C281.7 772.3 281.4 771.4 281.1 770.4 C280.8 769.5 280.4 768.6 279.9 767.7 C279.5 766.8 279.0 765.9 278.5 765.0 C278.0 764.1 277.4 763.2 276.8 762.4 C276.1 761.5 275.5 760.7 274.7 759.9 C273.8 759.1 272.1 757.6 271.5 757.7 C270.9 757.9 271.2 760.0 271.2 761.0 C271.2 762.0 271.5 763.0 271.7 764.0 C271.9 765.0 272.1 765.9 272.3 766.9 C272.6 767.9 272.8 768.9 273.0 769.8 C273.3 770.8 273.5 771.8 273.8 772.7 C274.0 773.7 274.3 774.7 274.6 775.6 C274.8 776.6 275.1 777.6 275.4 778.5 C275.8 779.4 276.3 780.3 276.8 781.2 C277.3 782.1 277.8 783.0 278.4 783.8 C279.1 784.7 279.9 786.5 280.5 786.3Z" fill="#d8e9f8" stroke="#a3cbee" stroke-width="1.1" stroke-linejoin="round"/>
<path d="M280.5 786.3 C281.0 786.7 282.5 785.8 283.3 785.5 C284.2 785.2 285.0 784.8 285.7 784.4 C286.4 784.0 287.1 783.5 287.6 783.0 C288.2 782.4 288.6 781.8 289.0 781.2 C289.4 780.6 289.8 780.0 290.2 779.3 C290.5 778.7 290.9 778.0 291.2 777.3 C291.5 776.6 291.7 775.9 292.0 775.2 C292.2 774.4 292.4 773.7 292.6 772.9 C292.7 772.2 293.0 771.4 293.0 770.5 C292.9 769.6 293.0 767.9 292.4 767.6 C291.9 767.2 290.6 768.1 289.9 768.6 C289.2 769.0 288.7 769.6 288.1 770.1 C287.6 770.6 287.0 771.2 286.5 771.7 C286.0 772.3 285.5 772.8 285.1 773.4 C284.6 774.0 284.1 774.6 283.7 775.2 C283.3 775.8 282.8 776.4 282.4 777.0 C282.0 777.7 281.6 778.3 281.3 778.9 C281.0 779.6 280.8 780.4 280.7 781.2 C280.5 782.0 280.4 782.8 280.4 783.6 C280.4 784.5 280.0 786.0 280.5 786.3Z" fill="#d8e9f8" stroke="#a3cbee" stroke-width="1.1" stroke-linejoin="round"/>
<path d="M280.5 786.3 C280.5 786.9 282.4 787.2 283.3 787.5 C284.2 787.8 285.1 788.0 286.1 788.2 C287.0 788.4 287.9 788.5 288.8 788.6 C289.7 788.6 290.6 788.5 291.5 788.4 C292.4 788.3 293.4 788.3 294.3 788.2 C295.2 788.1 296.1 788.0 297.0 787.9 C297.9 787.8 298.8 787.6 299.7 787.5 C300.6 787.4 301.5 787.2 302.4 787.1 C303.3 786.9 304.2 786.9 305.1 786.5 C306.0 786.2 307.8 785.7 307.8 785.1 C307.8 784.5 305.9 783.4 305.0 782.9 C304.0 782.3 303.1 782.1 302.2 781.8 C301.3 781.5 300.3 781.3 299.4 781.1 C298.5 780.9 297.6 780.8 296.6 780.7 C295.7 780.6 294.8 780.5 293.9 780.5 C293.0 780.5 292.1 780.5 291.2 780.6 C290.3 780.7 289.4 780.8 288.5 781.1 C287.6 781.3 286.7 781.7 285.8 782.2 C284.9 782.7 284.0 783.3 283.1 784.0 C282.2 784.7 280.5 785.8 280.5 786.3Z" fill="#d8e9f8" stroke="#a3cbee" stroke-width="1.1" stroke-linejoin="round"/>
<path d="M280.5 786.3 C280.0 786.6 281.0 788.3 281.3 789.2 C281.6 790.1 282.0 791.0 282.4 791.9 C282.8 792.8 283.2 793.6 283.7 794.4 C284.2 795.3 284.8 796.0 285.3 796.8 C285.8 797.6 286.4 798.4 286.9 799.2 C287.4 800.0 288.0 800.8 288.5 801.6 C289.0 802.4 289.5 803.3 290.0 804.1 C290.4 804.9 290.9 805.7 291.4 806.6 C291.9 807.4 292.3 808.3 292.9 809.0 C293.5 809.8 294.5 811.4 295.0 811.1 C295.5 810.8 295.9 808.4 296.0 807.2 C296.2 806.0 296.0 804.9 296.0 803.9 C295.9 802.8 295.7 801.8 295.5 800.8 C295.3 799.8 295.0 798.9 294.7 798.0 C294.4 797.1 294.0 796.2 293.5 795.3 C293.1 794.5 292.6 793.7 292.0 792.9 C291.5 792.1 290.9 791.3 290.2 790.7 C289.4 790.0 288.5 789.4 287.6 788.9 C286.6 788.3 285.5 787.8 284.3 787.4 C283.2 787.0 281.0 786.1 280.5 786.3Z" fill="#d8e9f8" stroke="#a3cbee" stroke-width="1.1" stroke-linejoin="round"/>
<path d="M280.5 786.3 C279.9 786.4 279.2 787.8 278.7 788.6 C278.2 789.3 277.8 790.0 277.5 790.7 C277.2 791.4 277.0 792.1 276.8 792.8 C276.7 793.5 276.8 794.2 276.8 794.9 C276.8 795.6 276.9 796.3 277.0 796.9 C277.1 797.6 277.2 798.3 277.4 799.0 C277.6 799.7 277.8 800.3 278.1 801.0 C278.3 801.7 278.6 802.3 278.9 803.0 C279.2 803.6 279.5 804.3 280.0 805.0 C280.6 805.6 281.6 806.9 282.2 806.8 C282.8 806.8 283.3 805.4 283.7 804.6 C284.0 803.9 284.0 803.2 284.2 802.5 C284.3 801.8 284.4 801.1 284.5 800.5 C284.5 799.8 284.6 799.1 284.6 798.4 C284.7 797.7 284.7 797.0 284.7 796.3 C284.6 795.6 284.6 794.9 284.6 794.3 C284.5 793.6 284.5 792.9 284.3 792.2 C284.1 791.5 283.8 790.9 283.5 790.2 C283.1 789.6 282.7 788.9 282.2 788.3 C281.7 787.6 281.1 786.3 280.5 786.3Z" fill="#d8e9f8" stroke="#a3cbee" stroke-width="1.1" stroke-linejoin="round"/>
<path d="M280.5 786.3 C280.3 785.8 278.0 785.2 276.8 784.9 C275.7 784.5 274.5 784.2 273.5 784.0 C272.4 783.9 271.3 783.8 270.4 783.9 C269.4 784.0 268.5 784.2 267.6 784.5 C266.7 784.8 265.8 785.1 264.9 785.5 C264.1 785.9 263.3 786.4 262.5 786.9 C261.7 787.4 260.9 788.0 260.1 788.7 C259.4 789.3 258.7 790.0 258.0 790.8 C257.3 791.6 256.6 792.3 256.0 793.3 C255.4 794.4 254.2 796.5 254.5 797.0 C254.7 797.6 256.4 796.9 257.4 796.7 C258.3 796.5 259.1 796.0 260.0 795.7 C260.8 795.3 261.7 794.9 262.6 794.6 C263.5 794.3 264.3 793.9 265.2 793.6 C266.1 793.3 267.0 792.9 267.9 792.6 C268.7 792.3 269.6 792.0 270.5 791.7 C271.4 791.4 272.3 791.2 273.2 790.8 C274.1 790.5 274.9 790.0 275.7 789.6 C276.6 789.1 277.4 788.6 278.2 788.1 C279.0 787.5 280.7 786.9 280.5 786.3Z" fill="#d8e9f8" stroke="#a3cbee" stroke-width="1.1" stroke-linejoin="round"/>
<path d="M280.5 786.3 C280.4 785.8 278.9 785.0 278.1 784.5 C277.3 784.0 276.5 783.5 275.8 783.2 C275.0 782.9 274.3 782.6 273.5 782.5 C272.8 782.4 272.1 782.4 271.4 782.5 C270.6 782.5 269.9 782.6 269.2 782.7 C268.5 782.9 267.8 783.1 267.1 783.3 C266.4 783.5 265.7 783.7 265.1 784.0 C264.4 784.4 263.7 784.7 263.0 785.1 C262.3 785.5 261.7 785.8 261.0 786.5 C260.4 787.1 259.1 788.3 259.1 788.9 C259.2 789.5 260.7 789.8 261.5 790.1 C262.2 790.3 262.9 790.3 263.6 790.3 C264.4 790.4 265.1 790.4 265.8 790.4 C266.5 790.4 267.3 790.5 268.0 790.4 C268.7 790.4 269.4 790.4 270.1 790.4 C270.9 790.3 271.6 790.3 272.3 790.2 C273.0 790.1 273.7 790.1 274.4 789.9 C275.1 789.8 275.8 789.5 276.5 789.1 C277.2 788.8 277.9 788.4 278.5 787.9 C279.2 787.5 280.6 786.9 280.5 786.3Z" fill="#d8e9f8" stroke="#a3cbee" stroke-width="1.1" stroke-linejoin="round"/>
<path d="M280.5 786.3 C280.6 785.8 279.0 785.0 278.2 784.5 C277.4 783.9 276.6 783.4 275.8 783.0 C275.0 782.6 274.2 782.2 273.3 781.9 C272.5 781.6 271.6 781.4 270.7 781.2 C269.8 781.1 268.9 780.9 268.1 780.7 C267.2 780.5 266.3 780.4 265.4 780.2 C264.5 780.1 263.7 780.0 262.8 779.8 C261.9 779.7 261.0 779.6 260.1 779.5 C259.2 779.4 258.3 779.2 257.4 779.3 C256.4 779.4 254.6 779.4 254.5 779.9 C254.3 780.5 255.8 782.0 256.5 782.8 C257.2 783.6 258.0 784.1 258.8 784.6 C259.6 785.2 260.4 785.6 261.2 786.1 C262.0 786.5 262.9 786.9 263.7 787.3 C264.5 787.6 265.4 787.9 266.2 788.2 C267.1 788.4 268.0 788.7 268.8 788.8 C269.7 789.0 270.6 789.2 271.5 789.2 C272.4 789.2 273.4 789.0 274.4 788.8 C275.3 788.6 276.3 788.3 277.4 787.9 C278.4 787.5 280.4 786.9 280.5 786.3Z" fill="#d8e9f8" stroke="#a3cbee" stroke-width="1.1" stroke-linejoin="round"/>
<path d="M280.5 786.3 C280.9 785.9 280.4 784.0 280.2 782.9 C280.0 781.8 279.8 780.8 279.5 779.9 C279.2 779.0 278.8 778.2 278.3 777.5 C277.9 776.7 277.3 776.1 276.7 775.6 C276.1 775.0 275.5 774.4 274.8 773.9 C274.2 773.4 273.5 773.0 272.7 772.5 C272.0 772.1 271.3 771.7 270.5 771.4 C269.7 771.0 268.8 770.7 268.0 770.5 C267.1 770.2 266.3 769.9 265.2 769.9 C264.2 769.8 262.1 769.7 261.7 770.1 C261.3 770.6 262.4 771.9 262.8 772.6 C263.3 773.3 263.9 773.9 264.5 774.5 C265.1 775.1 265.7 775.7 266.3 776.2 C266.8 776.8 267.4 777.4 268.0 778.0 C268.6 778.6 269.2 779.2 269.8 779.7 C270.4 780.3 271.0 780.9 271.6 781.5 C272.2 782.0 272.8 782.6 273.4 783.1 C274.1 783.6 274.8 784.1 275.6 784.5 C276.3 784.9 277.1 785.2 277.9 785.5 C278.7 785.8 280.1 786.8 280.5 786.3Z" fill="#d8e9f8" stroke="#a3cbee" stroke-width="1.1" stroke-linejoin="round"/>
<path d="M1065.5 147.0 C1064.6 148.5 1061.8 152.8 1060.2 155.7 C1058.6 158.7 1057.2 161.7 1055.9 164.8 C1054.6 167.9 1053.5 171.0 1052.4 174.1 C1051.4 177.3 1050.5 180.4 1049.7 183.7 C1048.9 186.9 1048.3 190.1 1047.7 193.4 C1047.1 196.7 1046.6 200.0 1046.2 203.3 C1045.8 206.6 1045.5 210.0 1045.3 213.3 C1045.1 216.7 1044.9 220.1 1044.8 223.5 C1044.6 226.9 1044.6 230.3 1044.6 233.7 C1044.5 237.0 1044.6 240.5 1044.6 243.9 C1044.6 247.3 1044.7 250.7 1044.8 254.1 C1044.8 257.4 1044.9 260.8 1045.0 264.2 C1045.1 267.6 1045.2 270.9 1045.2 274.3 C1045.3 277.6 1045.3 280.9 1045.3 284.2 C1045.3 287.5 1045.2 292.4 1045.2 294.0 L1045.6 300.0" fill="none" stroke="#111311" stroke-width="13.0" stroke-linecap="butt" stroke-linejoin="round"/>
<path d="M1048.4 342.4 L1029.0 290.0 L1045.3 296.0 L1062.0 288.7 Z" fill="#111311"/>
<path d="M614.0 858.0 C615.7 856.6 620.7 852.3 624.1 849.7 C627.6 847.1 631.1 844.6 634.7 842.1 C638.3 839.7 641.9 837.4 645.6 835.2 C649.3 833.0 653.1 830.9 656.9 828.9 C660.7 826.9 664.5 824.9 668.4 823.0 C672.3 821.1 676.2 819.3 680.1 817.5 C684.0 815.7 688.0 814.0 691.9 812.3 C695.9 810.6 699.9 808.9 703.9 807.3 C707.9 805.7 711.9 804.1 715.9 802.6 C720.0 801.0 724.0 799.5 728.1 798.0 C732.1 796.5 736.2 795.0 740.2 793.5 C744.3 792.1 748.4 790.6 752.5 789.2 C756.6 787.8 760.7 786.4 764.8 785.0 C768.9 783.6 773.1 782.2 777.2 780.9 C781.3 779.5 785.4 778.1 789.6 776.8 C793.7 775.4 797.8 774.0 802.0 772.7 C806.1 771.3 810.2 769.9 814.4 768.5 C818.5 767.1 822.7 765.8 826.8 764.4 C830.9 763.0 835.1 761.5 839.2 760.1 C843.3 758.7 847.4 757.2 851.6 755.8 C855.7 754.3 859.8 752.8 863.9 751.3 C868.0 749.8 872.1 748.3 876.2 746.7 C880.3 745.2 884.3 743.6 888.4 742.0 C892.4 740.4 896.5 738.8 900.5 737.1 C904.6 735.5 908.6 733.8 912.6 732.1 C916.6 730.3 920.6 728.6 924.5 726.8 C928.5 725.0 932.4 723.2 936.4 721.4 C940.3 719.5 944.2 717.6 948.1 715.7 C952.0 713.8 955.8 711.8 959.7 709.8 C963.5 707.8 967.3 705.7 971.1 703.6 C974.9 701.5 978.6 699.4 982.3 697.2 C986.0 695.0 989.7 692.8 993.4 690.5 C997.1 688.2 1000.7 685.9 1004.3 683.4 C1007.8 681.0 1011.3 678.5 1014.8 676.0 C1018.2 673.4 1021.6 670.7 1024.9 668.0 C1028.2 665.2 1031.4 662.4 1034.5 659.4 C1037.6 656.4 1040.6 653.4 1043.5 650.1 C1046.4 646.9 1049.2 643.6 1051.8 640.1 C1054.4 636.6 1058.0 631.0 1059.3 629.2 C1060.7 630.9 1064.8 636.0 1067.7 639.2 C1070.5 642.5 1073.4 645.6 1076.4 648.7 C1079.4 651.8 1082.5 654.8 1085.6 657.7 C1088.8 660.6 1092.0 663.4 1095.2 666.1 C1098.5 668.9 1101.8 671.5 1105.2 674.1 C1108.5 676.7 1111.9 679.2 1115.4 681.6 C1118.9 684.1 1122.4 686.4 1126.0 688.8 C1129.5 691.1 1133.1 693.3 1136.8 695.5 C1140.4 697.7 1144.1 699.8 1147.8 701.8 C1151.5 703.9 1155.3 705.9 1159.1 707.9 C1162.9 709.8 1166.7 711.7 1170.5 713.6 C1174.3 715.4 1178.2 717.2 1182.1 719.0 C1186.0 720.8 1189.9 722.5 1193.8 724.2 C1197.8 725.8 1201.7 727.5 1205.7 729.1 C1209.7 730.7 1213.7 732.3 1217.7 733.8 C1221.7 735.3 1225.8 736.8 1229.8 738.3 C1233.8 739.8 1237.9 741.3 1242.0 742.7 C1246.1 744.1 1250.1 745.5 1254.2 746.9 C1258.3 748.3 1262.4 749.7 1266.5 751.0 C1270.6 752.4 1274.8 753.7 1278.9 755.0 C1283.0 756.4 1287.1 757.7 1291.3 759.0 C1295.4 760.3 1299.5 761.6 1303.7 762.9 C1307.8 764.2 1311.9 765.5 1316.0 766.8 C1320.2 768.1 1324.3 769.4 1328.4 770.7 C1332.5 772.0 1336.6 773.3 1340.7 774.6 C1344.8 776.0 1348.9 777.3 1353.0 778.6 C1357.1 780.0 1361.2 781.4 1365.2 782.8 C1369.3 784.2 1373.3 785.6 1377.3 787.1 C1381.3 788.6 1385.3 790.1 1389.3 791.6 C1393.3 793.2 1397.2 794.8 1401.1 796.4 C1405.1 798.0 1409.0 799.7 1412.8 801.5 C1416.7 803.2 1420.5 805.0 1424.3 806.8 C1428.1 808.7 1431.9 810.6 1435.6 812.6 C1439.3 814.6 1443.0 816.7 1446.7 818.8 C1450.3 820.9 1454.0 823.2 1457.5 825.5 C1461.1 827.8 1464.6 830.1 1468.1 832.6 C1471.6 835.1 1475.0 837.6 1478.4 840.3 C1481.8 843.0 1485.1 845.7 1488.4 848.6 C1491.6 851.5 1496.4 856.0 1498.0 857.5" fill="none" stroke="#111311" stroke-width="13.4" stroke-linejoin="miter" stroke-miterlimit="10"/>
<path d="M594.3 898.5 L604.4 843.7 L618 854.5 L633.2 859 Z" fill="#111311"/>
<path d="M1519.3 894.9 L1477.2 859 L1493 853.5 L1504.5 841.5 Z" fill="#111311"/>
<path d="M441.0 878.3 C440.8 877.3 440.1 874.2 439.6 872.2 C439.0 870.2 438.3 868.2 437.5 866.3 C436.7 864.4 435.9 862.6 434.9 860.8 C434.0 859.0 432.9 857.2 431.8 855.5 C430.7 853.8 429.5 852.2 428.2 850.6 C427.0 848.9 425.6 847.4 424.2 845.9 C422.8 844.3 421.4 842.9 419.9 841.4 C418.4 840.0 416.8 838.6 415.2 837.3 C413.6 835.9 412.0 834.6 410.3 833.3 C408.6 832.1 406.9 830.9 405.2 829.7 C403.4 828.5 401.7 827.3 399.9 826.2 C398.1 825.1 396.3 824.1 394.5 823.0 C392.7 822.0 390.9 821.0 389.1 820.0 C387.2 819.1 385.4 818.2 383.6 817.3 C381.8 816.4 379.1 815.1 378.2 814.7 L372.6 812.6" fill="none" stroke="#111311" stroke-width="13.3" stroke-linecap="butt" stroke-linejoin="round"/>
<path d="M333.1 798.1 L388.3 802.8 L376.3 814.0 L375.8 833.2 Z" fill="#111311"/>
<path d="M396.0 953.4 C395.1 952.2 392.5 948.3 390.6 946.0 C388.6 943.8 386.5 941.8 384.4 939.9 C382.2 938.1 379.9 936.4 377.6 934.9 C375.2 933.4 372.7 932.1 370.2 931.0 C367.7 929.8 365.0 928.9 362.4 928.0 C359.7 927.1 356.9 926.5 354.1 925.9 C351.3 925.3 348.4 924.8 345.6 924.5 C342.7 924.2 339.7 923.9 336.8 923.8 C333.8 923.7 330.8 923.6 327.8 923.7 C324.9 923.7 321.8 923.8 318.8 924.0 C315.8 924.2 312.8 924.4 309.9 924.7 C306.9 925.0 303.9 925.4 301.0 925.7 C298.1 926.1 295.2 926.5 292.3 926.9 C289.4 927.3 286.6 927.8 283.9 928.2 C281.1 928.6 277.1 929.3 275.8 929.5 L270.2 931.8" fill="none" stroke="#111311" stroke-width="13.3" stroke-linecap="butt" stroke-linejoin="round"/>
<path d="M231.3 947.6 L274.6 913.7 L273.9 930.3 L286.8 943.6 Z" fill="#111311"/>
<path d="M382.7 1054.4 C381.6 1054.4 378.3 1054.4 376.1 1054.6 C373.8 1054.7 371.6 1055.0 369.4 1055.3 C367.2 1055.6 365.1 1056.0 362.9 1056.5 C360.7 1057.0 358.6 1057.5 356.4 1058.1 C354.3 1058.8 352.2 1059.5 350.1 1060.2 C348.0 1061.0 346.0 1061.9 343.9 1062.8 C341.9 1063.7 339.9 1064.7 337.9 1065.7 C336.0 1066.8 334.1 1067.9 332.2 1069.1 C330.3 1070.3 328.4 1071.5 326.7 1072.8 C324.9 1074.1 323.1 1075.5 321.4 1076.9 C319.7 1078.4 318.1 1079.8 316.5 1081.4 C314.9 1082.9 313.3 1084.5 311.9 1086.2 C310.4 1087.8 309.0 1089.5 307.6 1091.3 C306.3 1093.0 305.0 1094.8 303.8 1096.7 C302.6 1098.6 301.0 1101.5 300.4 1102.4 L297.8 1107.8" fill="none" stroke="#111311" stroke-width="13.0" stroke-linecap="butt" stroke-linejoin="round"/>
<path d="M279.4 1145.9 L290.5 1091.4 L299.5 1104.2 L319.1 1107.7 Z" fill="#111311"/>
<path d="M513.8 1124.5 C514.4 1125.2 516.3 1127.1 517.4 1128.5 C518.6 1129.9 519.7 1131.3 520.7 1132.7 C521.8 1134.2 522.8 1135.7 523.7 1137.2 C524.6 1138.7 525.5 1140.3 526.3 1141.8 C527.1 1143.4 527.9 1145.0 528.6 1146.7 C529.3 1148.3 529.9 1150.0 530.5 1151.7 C531.1 1153.3 531.7 1155.0 532.1 1156.8 C532.6 1158.5 533.0 1160.2 533.4 1162.0 C533.8 1163.7 534.1 1165.5 534.3 1167.3 C534.6 1169.0 534.8 1170.8 534.9 1172.6 C535.1 1174.4 535.2 1176.2 535.2 1178.0 C535.2 1179.7 535.2 1181.5 535.1 1183.3 C535.1 1185.1 534.9 1186.9 534.7 1188.7 C534.5 1190.4 534.3 1192.2 534.0 1194.0 C533.7 1195.7 533.1 1198.3 532.9 1199.2 L531.5 1205.0" fill="none" stroke="#111311" stroke-width="13.0" stroke-linecap="butt" stroke-linejoin="round"/>
<path d="M521.1 1247.2 L516.1 1192.0 L532.4 1201.1 L548.1 1198.8 Z" fill="#111311"/>
<path d="M638.3 1053.9 C639.6 1054.1 643.4 1054.7 645.8 1055.3 C648.3 1055.9 650.7 1056.5 653.0 1057.3 C655.4 1058.1 657.7 1059.0 660.0 1060.0 C662.2 1061.0 664.4 1062.1 666.6 1063.3 C668.8 1064.4 670.9 1065.7 673.0 1067.0 C675.1 1068.3 677.2 1069.7 679.2 1071.2 C681.2 1072.6 683.2 1074.2 685.1 1075.7 C687.1 1077.3 689.0 1079.0 690.9 1080.6 C692.8 1082.3 694.6 1084.0 696.5 1085.8 C698.3 1087.5 700.1 1089.3 701.9 1091.1 C703.7 1093.0 705.4 1094.8 707.1 1096.7 C708.9 1098.5 710.6 1100.4 712.3 1102.3 C713.9 1104.1 715.6 1106.0 717.3 1107.9 C718.9 1109.8 720.5 1111.6 722.2 1113.5 C723.8 1115.3 726.2 1118.1 727.0 1119.0 L730.2 1124.0" fill="none" stroke="#111311" stroke-width="13.3" stroke-linecap="butt" stroke-linejoin="round"/>
<path d="M752.3 1158.4 L710.5 1121.7 L728.1 1120.7 L738.7 1104.6 Z" fill="#111311"/>
<path d="M638.8 968.9 C639.7 967.7 642.3 963.8 644.3 961.5 C646.2 959.3 648.3 957.3 650.5 955.4 C652.7 953.6 655.0 951.9 657.4 950.4 C659.7 949.0 662.2 947.7 664.8 946.5 C667.3 945.4 670.0 944.4 672.7 943.6 C675.4 942.7 678.2 942.0 681.0 941.5 C683.8 940.9 686.7 940.5 689.6 940.2 C692.5 939.9 695.4 939.7 698.4 939.6 C701.3 939.5 704.3 939.5 707.3 939.6 C710.3 939.7 713.3 939.9 716.3 940.1 C719.3 940.4 722.3 940.7 725.3 941.1 C728.3 941.5 731.2 941.9 734.2 942.4 C737.1 942.9 740.0 943.5 742.8 944.0 C745.7 944.6 748.5 945.2 751.2 945.8 C753.9 946.4 757.9 947.3 759.2 947.6 L764.9 949.6" fill="none" stroke="#111311" stroke-width="13.5" stroke-linecap="butt" stroke-linejoin="round"/>
<path d="M803.5 963.4 L760.0 929.1 L761.1 948.3 L748.1 959.5 Z" fill="#111311"/>
<path d="M1450.5 1108.3 C1449.5 1108.3 1446.5 1108.3 1444.6 1108.4 C1442.6 1108.5 1440.7 1108.8 1438.8 1109.0 C1436.9 1109.3 1435.0 1109.7 1433.1 1110.2 C1431.3 1110.6 1429.4 1111.2 1427.6 1111.8 C1425.8 1112.4 1424.0 1113.0 1422.2 1113.8 C1420.4 1114.5 1418.6 1115.3 1416.9 1116.2 C1415.2 1117.0 1413.5 1117.9 1411.8 1118.9 C1410.1 1119.9 1408.4 1120.9 1406.8 1122.0 C1405.2 1123.0 1403.6 1124.2 1402.0 1125.3 C1400.4 1126.5 1398.9 1127.7 1397.4 1128.9 C1395.9 1130.2 1394.4 1131.4 1392.9 1132.8 C1391.4 1134.1 1390.0 1135.4 1388.6 1136.8 C1387.2 1138.1 1385.9 1139.5 1384.5 1140.9 C1383.2 1142.3 1381.9 1143.7 1380.6 1145.2 C1379.3 1146.6 1377.5 1148.8 1376.9 1149.5 L1373.8 1154.7" fill="none" stroke="#111311" stroke-width="13.3" stroke-linecap="butt" stroke-linejoin="round"/>
<path d="M1352.2 1191.3 L1364.3 1137.3 L1375.9 1151.2 L1395.9 1154.5 Z" fill="#111311"/>
<path d="M1675.8 1109.4 C1676.6 1109.6 1679.1 1110.1 1680.7 1110.5 C1682.3 1110.9 1683.9 1111.4 1685.4 1111.9 C1687.0 1112.4 1688.5 1113.0 1690.0 1113.6 C1691.6 1114.3 1693.0 1114.9 1694.5 1115.7 C1696.0 1116.4 1697.4 1117.2 1698.9 1118.0 C1700.3 1118.8 1701.7 1119.7 1703.1 1120.6 C1704.5 1121.5 1705.8 1122.4 1707.2 1123.3 C1708.5 1124.3 1709.8 1125.3 1711.1 1126.3 C1712.5 1127.4 1713.7 1128.4 1715.0 1129.5 C1716.3 1130.6 1717.5 1131.7 1718.7 1132.8 C1720.0 1133.9 1721.2 1135.1 1722.4 1136.2 C1723.6 1137.4 1724.8 1138.5 1725.9 1139.7 C1727.1 1140.9 1728.2 1142.1 1729.3 1143.3 C1730.5 1144.5 1731.6 1145.7 1732.7 1147.0 C1733.8 1148.2 1735.4 1150.0 1735.9 1150.6 L1738.4 1156.1" fill="none" stroke="#111311" stroke-width="13.3" stroke-linecap="butt" stroke-linejoin="round"/>
<path d="M1754.9 1192.4 L1714.2 1155.6 L1736.7 1152.4 L1743.5 1138.5 Z" fill="#111311"/>
<path d="M534.7 776 L511.6 933.7" stroke="#111" stroke-width="1.6" fill="none"/>
<text x="687.8" y="266.0" font-size="44.0" textLength="250.9" lengthAdjust="spacingAndGlyphs">Bone marrow</text>
<text x="1119.8" y="380.5" font-size="44.0" textLength="276.9" lengthAdjust="spacingAndGlyphs">Hematopoietic</text>
<text x="1214.3" y="433.3" font-size="44.0" textLength="182.4" lengthAdjust="spacingAndGlyphs">stem cells</text>
<text x="188.8" y="667.0" font-size="44.0" textLength="157.4" lengthAdjust="spacingAndGlyphs">Platelets</text>
<text x="468.8" y="699.0" font-size="44.0" textLength="148.4" lengthAdjust="spacingAndGlyphs">Myeloid</text>
<text x="398.3" y="743.8" font-size="44.0" textLength="290.9" lengthAdjust="spacingAndGlyphs">progenitor cells</text>
<text x="6.3" y="815.0" font-size="44.0" textLength="193.9" lengthAdjust="spacingAndGlyphs">Eosinophil</text>
<text x="831.8" y="874.0" font-size="44.0" textLength="233.4" lengthAdjust="spacingAndGlyphs">Erythrocytes</text>
<text x="1562.8" y="801.0" font-size="44.0" textLength="187.4" lengthAdjust="spacingAndGlyphs">Lymphoid</text>
<text x="1562.8" y="846.0" font-size="44.0" textLength="272.4" lengthAdjust="spacingAndGlyphs">progenitor cell</text>
<text x="89.8" y="1380.0" font-size="44.0" textLength="157.4" lengthAdjust="spacingAndGlyphs">Basophil</text>
<text x="405.8" y="1515.0" font-size="44.0" textLength="201.4" lengthAdjust="spacingAndGlyphs">Neutrophil</text>
<text x="775.8" y="1430.0" font-size="44.0" textLength="188.4" lengthAdjust="spacingAndGlyphs">Monocyte</text>
<text x="1254.8" y="1467.0" font-size="44.0" textLength="98.4" lengthAdjust="spacingAndGlyphs">T-cell</text>
<text x="1779.8" y="1467.0" font-size="44.0" textLength="100.4" lengthAdjust="spacingAndGlyphs">B-cell</text>
</svg>
</body></html>
